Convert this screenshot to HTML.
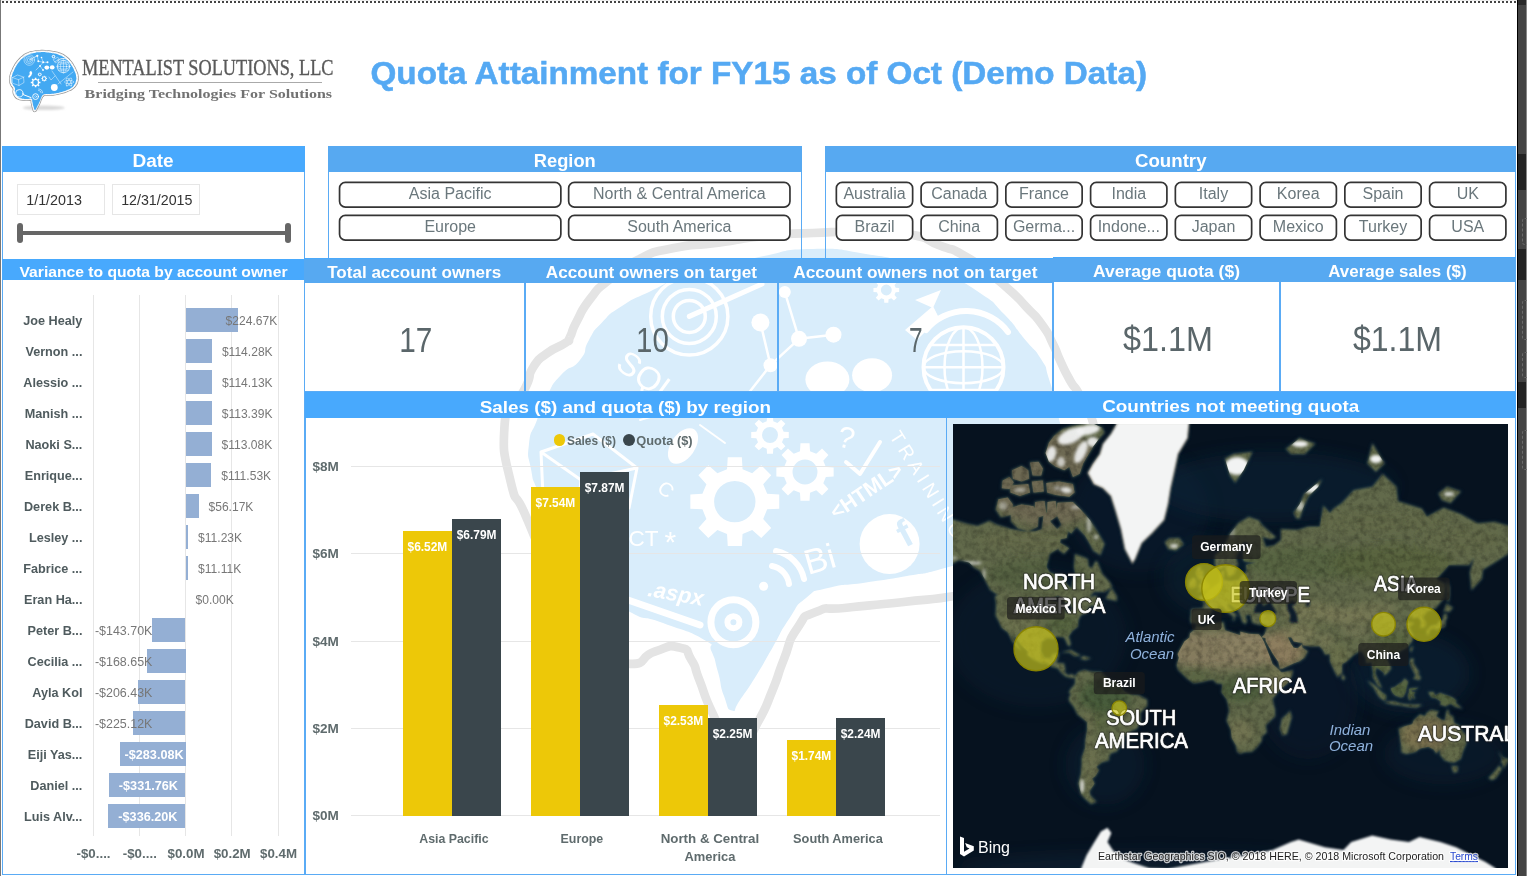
<!DOCTYPE html>
<html><head><meta charset="utf-8"><title>Quota Attainment</title>
<style>
html,body{margin:0;padding:0}
body{width:1527px;height:876px;position:relative;overflow:hidden;background:#fff;font-family:"Liberation Sans",sans-serif;color:#555}
div,span{box-sizing:border-box}
.a{position:absolute}
.hd{position:absolute}
.h1{background:#48a9fd}
.h2{background:#57a9f1}
.pn{position:absolute;border:1px solid #5aabf5}
.btn{position:absolute;border:1.7px solid #333;border-radius:6.5px;height:26.4px;line-height:20.6px;text-align:center;font-size:16px;color:#6a777c;white-space:nowrap;overflow:hidden;background:#fff}
.bar{position:absolute;height:24px;background:#94afd4}
</style></head><body>

<svg class="a" style="left:0;top:0" width="1527" height="876" viewBox="0 0 1527 876">
<path d="M515.00 405.00C522.37 390.77 520.37 397.97 526.50 385.30C532.63 372.63 526.53 377.67 533.40 367.00C540.27 356.33 536.47 361.30 547.10 353.30C557.73 345.30 557.70 348.33 565.30 343.00C572.90 337.67 566.07 344.53 569.90 337.30C573.73 330.07 569.93 334.23 576.80 321.30C583.67 308.37 579.87 312.20 590.50 298.50C601.13 284.80 592.73 293.13 608.70 280.20C624.67 267.27 617.10 270.33 638.40 259.70C659.70 249.07 645.97 254.00 672.60 248.30C699.23 242.60 687.50 246.70 718.30 242.60C749.10 238.50 733.43 239.20 765.00 236.00C796.57 232.80 781.33 234.33 813.00 233.00C844.67 231.67 828.37 231.63 860.00 232.00C891.63 232.37 881.30 229.60 907.90 234.10C934.50 238.60 921.57 238.63 939.80 245.50C958.03 252.37 947.37 246.30 962.60 254.70C977.83 263.10 970.27 259.30 985.50 270.70C1000.73 282.10 994.60 276.73 1008.30 288.90C1022.00 301.07 1015.17 295.00 1026.60 307.20C1038.03 319.40 1033.87 313.33 1042.60 325.50C1051.33 337.67 1046.73 331.53 1052.80 343.70C1058.87 355.87 1055.07 349.80 1060.80 362.00C1066.53 374.20 1063.13 368.13 1070.00 380.30C1076.87 392.47 1073.07 381.93 1081.40 398.50C1089.73 415.07 1088.80 406.17 1095.00 430.00C1101.20 453.83 1101.67 440.00 1100.00 470.00C1098.33 500.00 1103.33 490.00 1090.00 520.00C1076.67 550.00 1086.67 538.33 1060.00 560.00C1033.33 581.67 1043.33 573.23 1010.00 585.00C976.67 596.77 996.20 589.57 960.00 595.30C923.80 601.03 939.20 598.07 901.40 602.20C863.60 606.33 874.93 604.50 846.60 607.70C818.27 610.90 832.83 604.97 816.40 611.80C799.97 618.63 808.23 612.13 797.30 628.20C786.37 644.27 791.83 639.40 783.60 660.00C775.37 680.60 781.13 669.33 772.60 690.00C764.07 710.67 768.20 703.67 758.00 722.00C747.80 740.33 752.00 739.00 742.00 745.00C732.00 751.00 738.00 751.00 728.00 740.00C718.00 729.00 721.53 732.00 712.00 712.00C702.47 692.00 706.30 697.43 699.40 680.00C692.50 662.57 698.07 670.53 691.30 659.70C684.53 648.87 691.30 650.20 679.10 647.50C666.90 644.80 670.97 646.17 654.70 651.60C638.43 657.03 648.53 664.33 630.30 663.80C612.07 663.27 620.10 667.93 600.00 650.00C579.90 632.07 588.33 640.00 570.00 610.00C551.67 580.00 560.10 592.17 545.00 560.00C529.90 527.83 536.20 539.83 524.70 513.50C513.20 487.17 517.27 509.50 510.50 481.00C503.73 452.50 502.90 453.33 504.40 428.00C505.90 402.67 507.63 419.23 515.00 405.00Z" fill="none" stroke="#e4e4e4" stroke-width="8.7" stroke-linejoin="round"/>
<path d="M813.00 249.00C847.00 248.33 834.67 249.33 866.00 254.00C897.33 258.67 880.00 255.67 907.00 263.00C934.00 270.33 922.67 266.00 947.00 276.00C971.33 286.00 961.00 280.33 980.00 293.00C999.00 305.67 989.17 298.67 1004.00 314.00C1018.83 329.33 1012.17 324.00 1024.50 339.00C1036.83 354.00 1032.83 345.67 1041.00 359.00C1049.17 372.33 1043.67 362.00 1049.00 379.00C1054.33 396.00 1052.67 388.00 1057.00 410.00C1061.33 432.00 1061.67 420.00 1062.00 445.00C1062.33 470.00 1064.67 459.33 1058.00 485.00C1051.33 510.67 1059.67 500.67 1042.00 522.00C1024.33 543.33 1037.33 533.67 1005.00 549.00C972.67 564.33 977.67 559.00 945.00 568.00C912.33 577.00 933.33 571.17 907.00 576.00C880.67 580.83 892.33 578.50 866.00 582.50C839.67 586.50 848.00 582.83 828.00 588.00C808.00 593.17 819.00 587.67 806.00 598.00C793.00 608.33 800.13 602.50 789.00 619.00C777.87 635.50 783.60 628.50 772.60 647.50C761.60 666.50 766.87 658.50 756.00 676.00C745.13 693.50 748.00 688.50 740.00 700.00C732.00 711.50 737.33 711.83 732.00 710.50C726.67 709.17 728.67 708.83 724.00 696.00C719.33 683.17 722.13 686.80 718.00 672.00C713.87 657.20 716.43 662.47 711.60 651.60C706.77 640.73 719.70 648.93 703.50 639.40C687.30 629.87 688.17 632.47 663.00 623.00C637.83 613.53 651.67 623.67 628.00 611.00C604.33 598.33 614.00 607.00 592.00 585.00C570.00 563.00 577.00 570.33 562.00 545.00C547.00 519.67 555.33 527.67 547.00 509.00C538.67 490.33 542.33 502.33 537.00 489.00C531.67 475.67 533.67 484.00 531.00 469.00C528.33 454.00 527.00 460.33 529.00 444.00C531.00 427.67 531.00 436.00 537.00 420.00C543.00 404.00 539.00 411.00 547.00 396.00C555.00 381.00 550.00 387.00 561.00 375.00C572.00 363.00 570.67 371.67 580.00 360.00C589.33 348.33 581.67 352.50 589.00 340.00C596.33 327.50 591.00 333.83 602.00 322.50C613.00 311.17 605.67 316.50 622.00 306.00C638.33 295.50 630.67 300.67 651.00 291.00C671.33 281.33 658.67 285.00 683.00 277.00C707.33 269.00 697.00 274.00 724.00 267.00C751.00 260.00 734.33 262.00 764.00 256.00C793.67 250.00 779.00 249.67 813.00 249.00Z" fill="#d9edfb"/>
<g fill="#ffffff">
<path fill-rule="evenodd" d="M779.25 494.56L779.25 508.64L767.18 509.37L763.19 519.00L771.21 528.05L761.25 538.01L752.20 529.99L742.57 533.98L741.84 546.05L727.76 546.05L727.03 533.98L717.40 529.99L708.35 538.01L698.39 528.05L706.41 519.00L702.42 509.37L690.35 508.64L690.35 494.56L702.42 493.83L706.41 484.20L698.39 475.15L708.35 465.19L717.40 473.21L727.03 469.22L727.76 457.15L741.84 457.15L742.57 469.22L752.20 473.21L761.25 465.19L771.21 475.15L763.19 484.20L767.18 493.83ZM755.50 501.60A20.70 20.70 0 1 0 714.10 501.60A20.70 20.70 0 1 0 755.50 501.60Z"/>
<path fill-rule="evenodd" d="M833.64 467.46L833.64 476.54L825.87 477.01L823.30 483.21L828.46 489.05L822.05 495.46L816.21 490.30L810.01 492.87L809.54 500.64L800.46 500.64L799.99 492.87L793.79 490.30L787.95 495.46L781.54 489.05L786.70 483.21L784.13 477.01L776.36 476.54L776.36 467.46L784.13 466.99L786.70 460.79L781.54 454.95L787.95 448.54L793.79 453.70L799.99 451.13L800.46 443.36L809.54 443.36L810.01 451.13L816.21 453.70L822.05 448.54L828.46 454.95L823.30 460.79L825.87 466.99ZM817.47 472.00A12.47 12.47 0 1 0 792.53 472.00A12.47 12.47 0 1 0 817.47 472.00Z"/>
<path fill-rule="evenodd" d="M788.77 432.03L788.77 437.97L783.67 438.28L781.99 442.35L785.37 446.17L781.17 450.37L777.35 446.99L773.28 448.67L772.97 453.77L767.03 453.77L766.72 448.67L762.65 446.99L758.83 450.37L754.63 446.17L758.01 442.35L756.33 438.28L751.23 437.97L751.23 432.03L756.33 431.72L758.01 427.65L754.63 423.83L758.83 419.63L762.65 423.01L766.72 421.33L767.03 416.23L772.97 416.23L773.28 421.33L777.35 423.01L781.17 419.63L785.37 423.83L781.99 427.65L783.67 431.72ZM777.98 435.00A7.98 7.98 0 1 0 762.02 435.00A7.98 7.98 0 1 0 777.98 435.00Z"/>
<path fill-rule="evenodd" d="M899.14 287.97L899.14 292.03L895.65 292.25L894.50 295.03L896.82 297.64L893.94 300.52L891.33 298.20L888.55 299.35L888.33 302.84L884.27 302.84L884.05 299.35L881.27 298.20L878.66 300.52L875.78 297.64L878.10 295.03L876.95 292.25L873.46 292.03L873.46 287.97L876.95 287.75L878.10 284.97L875.78 282.36L878.66 279.48L881.27 281.80L884.05 280.65L884.27 277.16L888.33 277.16L888.55 280.65L891.33 281.80L893.94 279.48L896.82 282.36L894.50 284.97L895.65 287.75ZM891.76 290.00A5.46 5.46 0 1 0 880.84 290.00A5.46 5.46 0 1 0 891.76 290.00Z"/>
<circle cx="889.6" cy="544.1" r="30"/>
<ellipse cx="827.4" cy="379.4" rx="22" ry="18"/><ellipse cx="872.1" cy="375.3" rx="20" ry="17"/>
<circle cx="760.4" cy="322.5" r="9"/><circle cx="799" cy="338.8" r="8"/><circle cx="833.5" cy="334.7" r="8"/><circle cx="770.5" cy="365.2" r="7"/><circle cx="784.8" cy="292" r="6"/>
<circle cx="763.6" cy="586.3" r="4.5"/>
<path d="M905 330l28-24l6 12l-22 22zM915 300l26-10l-8 18z"/>
<ellipse cx="683" cy="446" rx="12" ry="20" transform="rotate(35 683 446)"/>
</g>
<g fill="none" stroke="#ffffff" stroke-width="3.5" stroke-linecap="round" stroke-linejoin="round">
<circle cx="689.3" cy="316.4" r="38.6"/><circle cx="689.3" cy="316.4" r="27"/><circle cx="689.3" cy="316.4" r="16"/><path d="M689.3 316.4L762 284" stroke-width="5"/>
<path d="M784.8 292L799 338.8L833.5 334.7M799 338.8L770.5 365.2M760.4 322.5L770.5 365.2L740 404" stroke-width="2.5"/>
<circle cx="963.5" cy="367.2" r="40" stroke-width="4"/><ellipse cx="963.5" cy="367.2" rx="19" ry="40" stroke-width="2.5"/><ellipse cx="963.5" cy="367.2" rx="40" ry="16" stroke-width="2.5"/><path d="M963.5 327.2V407.2M923.5 367.2H1003.5M930 345H997M930 390H997" stroke-width="2.5"/><path d="M926 330A52 52 0 0 1 1008 332" stroke-width="6"/>
<path d="M541 452l52-18l44 34l-8 40l-52 14l-34-26zM541 452l40 28l56-12M581 480l-4 42" stroke-width="3"/>
<circle cx="733.4" cy="622.2" r="22.5" stroke-width="7"/><circle cx="733.4" cy="622.2" r="6" stroke-width="6"/>
<path d="M772 566a21 21 0 0 1 17 18M776 551a36 36 0 0 1 28 28" stroke-width="6"/>
<path d="M846 462l14 12l20-32" stroke-width="4"/>
<path d="M610 610a26 26 0 1 1 14 -30M628 600L700 625" stroke-width="7"/>
<path d="M700 425l25 18M640 420l50-15" stroke-width="2"/>
</g>
<g fill="#ffffff" font-family="Liberation Sans, sans-serif">
<text transform="translate(614 367) rotate(36)" font-size="33">SQL</text>
<text x="571" y="546" font-size="22.5">SELECT <tspan font-size="30" dy="6">*</tspan></text>
<text transform="translate(647 596) rotate(10)" font-weight="bold" font-style="italic" font-size="22">.aspx</text>
<text transform="translate(808 575) rotate(-16)" font-size="35">Bi</text>
<text transform="translate(836 520) rotate(-34)" font-weight="bold" font-size="21">&lt;HTML&gt;</text>
<text transform="translate(889 436) rotate(58)" font-size="19" letter-spacing="4.5">TRAININGS</text>
<text transform="translate(836 446) rotate(12)" font-size="30">?</text>
<text transform="translate(656 490) rotate(40)" font-size="20">C</text>
<text transform="translate(905 548) rotate(-28)" font-size="38" font-weight="bold" fill="#d9edfb">f</text>
</g>
</svg>
<div class="a" style="left:0;top:0;width:1517px;height:1px;background:#eee"></div>
<div class="a" style="left:2px;top:1px;width:1515px;height:2px;background:repeating-linear-gradient(90deg,#444 0,#444 2px,transparent 2px,transparent 4px)"></div>
<div class="a" style="left:0;top:0;width:1px;height:876px;background:#777"></div>
<div class="a" style="left:1517px;top:0;width:10px;height:876px;background:#444;border-left:1px solid #000;border-right:1px solid #888"></div>
<div class="a" style="left:1518px;top:0;width:8px;height:5px;background:#282828"></div>
<div class="a" style="left:1518px;top:154px;width:8px;height:36px;background:#232323"></div>
<div class="a" style="left:1518px;top:249px;width:8px;height:31px;background:#232323"></div>
<div class="a" style="left:1518px;top:382px;width:8px;height:26px;background:#232323"></div>
<div class="a" style="left:1522px;top:218px;width:8px;height:27px;border:1px dashed #6a6a6a;border-radius:3px"></div>
<div class="a" style="left:1522px;top:300px;width:8px;height:40px;border:1px dashed #6a6a6a;border-radius:3px"></div>
<div class="a" style="left:1522px;top:352px;width:8px;height:26px;border:1px dashed #6a6a6a;border-radius:3px"></div>
<div class="a" style="left:1522px;top:430px;width:8px;height:40px;border:1px dashed #6a6a6a;border-radius:3px"></div>
<svg class="a" style="left:0;top:30px" width="380" height="100" viewBox="0 30 380 100">
<defs><filter id="sh" x="-20%" y="-100%" width="140%" height="300%"><feGaussianBlur stdDeviation="0.9"/></filter></defs>
<ellipse cx="43.8" cy="107.8" rx="21" ry="2.3" fill="#d9d9d9" filter="url(#sh)"/>
<path d="M10.23 80.18C10.08 76.83 10.11 78.05 10.96 74.70C11.81 71.35 11.42 73.18 12.79 70.14C14.16 67.09 13.24 68.61 15.07 65.57C16.89 62.53 15.83 63.90 18.26 61.00C20.70 58.11 19.33 59.33 22.37 56.89C25.42 54.46 23.59 55.37 27.40 53.70C31.20 52.02 29.53 52.72 33.79 51.87C38.05 51.02 35.62 51.29 40.18 51.14C44.75 50.99 42.92 51.02 47.49 51.42C52.05 51.81 49.92 51.57 53.88 52.33C57.84 53.09 55.71 52.33 59.36 53.70C63.01 55.07 61.49 54.16 64.84 56.44C68.19 58.72 66.67 57.50 69.41 60.55C72.15 63.59 70.93 62.07 73.06 65.57C75.19 69.07 74.34 67.40 75.80 71.05C77.26 74.70 76.99 73.18 77.44 76.53C77.90 79.88 77.87 78.20 77.17 81.10C76.47 83.99 77.02 82.77 75.34 85.21C73.67 87.64 74.73 86.58 72.15 88.40C69.56 90.23 70.93 89.32 67.58 90.68C64.23 92.05 65.75 91.45 62.10 92.51C58.45 93.58 60.27 93.21 56.62 93.88C52.97 94.55 54.79 94.28 51.14 94.52C47.49 94.76 48.40 94.22 45.66 94.61C42.92 95.01 44.44 94.43 42.92 95.71C41.40 96.99 42.31 96.01 41.10 98.45C39.88 100.88 40.64 99.97 39.27 103.01C37.90 106.06 38.51 104.90 36.99 107.58C35.46 110.26 36.01 111.05 34.70 111.05C33.39 111.05 33.97 110.26 33.06 107.58C32.15 104.90 32.63 105.60 31.96 103.01C31.29 100.43 32.57 100.88 31.05 99.82C29.53 98.75 30.14 99.91 27.40 99.82C24.66 99.73 25.88 100.00 22.83 99.54C19.79 99.09 20.85 99.73 18.26 98.45C15.68 97.17 16.59 97.84 15.07 95.71C13.55 93.58 14.16 94.49 13.70 92.05C13.24 89.62 14.46 90.84 13.70 88.40C12.94 85.97 12.57 87.49 11.42 84.75C10.26 82.01 10.38 83.53 10.23 80.18Z" fill="none" stroke="#9c9c9c" stroke-width="2.50" stroke-linejoin="round"/>
<path d="M10.23 80.18C10.08 76.83 10.11 78.05 10.96 74.70C11.81 71.35 11.42 73.18 12.79 70.14C14.16 67.09 13.24 68.61 15.07 65.57C16.89 62.53 15.83 63.90 18.26 61.00C20.70 58.11 19.33 59.33 22.37 56.89C25.42 54.46 23.59 55.37 27.40 53.70C31.20 52.02 29.53 52.72 33.79 51.87C38.05 51.02 35.62 51.29 40.18 51.14C44.75 50.99 42.92 51.02 47.49 51.42C52.05 51.81 49.92 51.57 53.88 52.33C57.84 53.09 55.71 52.33 59.36 53.70C63.01 55.07 61.49 54.16 64.84 56.44C68.19 58.72 66.67 57.50 69.41 60.55C72.15 63.59 70.93 62.07 73.06 65.57C75.19 69.07 74.34 67.40 75.80 71.05C77.26 74.70 76.99 73.18 77.44 76.53C77.90 79.88 77.87 78.20 77.17 81.10C76.47 83.99 77.02 82.77 75.34 85.21C73.67 87.64 74.73 86.58 72.15 88.40C69.56 90.23 70.93 89.32 67.58 90.68C64.23 92.05 65.75 91.45 62.10 92.51C58.45 93.58 60.27 93.21 56.62 93.88C52.97 94.55 54.79 94.28 51.14 94.52C47.49 94.76 48.40 94.22 45.66 94.61C42.92 95.01 44.44 94.43 42.92 95.71C41.40 96.99 42.31 96.01 41.10 98.45C39.88 100.88 40.64 99.97 39.27 103.01C37.90 106.06 38.51 104.90 36.99 107.58C35.46 110.26 36.01 111.05 34.70 111.05C33.39 111.05 33.97 110.26 33.06 107.58C32.15 104.90 32.63 105.60 31.96 103.01C31.29 100.43 32.57 100.88 31.05 99.82C29.53 98.75 30.14 99.91 27.40 99.82C24.66 99.73 25.88 100.00 22.83 99.54C19.79 99.09 20.85 99.73 18.26 98.45C15.68 97.17 16.59 97.84 15.07 95.71C13.55 93.58 14.16 94.49 13.70 92.05C13.24 89.62 14.46 90.84 13.70 88.40C12.94 85.97 12.57 87.49 11.42 84.75C10.26 82.01 10.38 83.53 10.23 80.18Z" fill="#fff" stroke="#fff" stroke-width="1.00" stroke-linejoin="round"/>
<path d="M10.23 80.18C10.08 76.83 10.11 78.05 10.96 74.70C11.81 71.35 11.42 73.18 12.79 70.14C14.16 67.09 13.24 68.61 15.07 65.57C16.89 62.53 15.83 63.90 18.26 61.00C20.70 58.11 19.33 59.33 22.37 56.89C25.42 54.46 23.59 55.37 27.40 53.70C31.20 52.02 29.53 52.72 33.79 51.87C38.05 51.02 35.62 51.29 40.18 51.14C44.75 50.99 42.92 51.02 47.49 51.42C52.05 51.81 49.92 51.57 53.88 52.33C57.84 53.09 55.71 52.33 59.36 53.70C63.01 55.07 61.49 54.16 64.84 56.44C68.19 58.72 66.67 57.50 69.41 60.55C72.15 63.59 70.93 62.07 73.06 65.57C75.19 69.07 74.34 67.40 75.80 71.05C77.26 74.70 76.99 73.18 77.44 76.53C77.90 79.88 77.87 78.20 77.17 81.10C76.47 83.99 77.02 82.77 75.34 85.21C73.67 87.64 74.73 86.58 72.15 88.40C69.56 90.23 70.93 89.32 67.58 90.68C64.23 92.05 65.75 91.45 62.10 92.51C58.45 93.58 60.27 93.21 56.62 93.88C52.97 94.55 54.79 94.28 51.14 94.52C47.49 94.76 48.40 94.22 45.66 94.61C42.92 95.01 44.44 94.43 42.92 95.71C41.40 96.99 42.31 96.01 41.10 98.45C39.88 100.88 40.64 99.97 39.27 103.01C37.90 106.06 38.51 104.90 36.99 107.58C35.46 110.26 36.01 111.05 34.70 111.05C33.39 111.05 33.97 110.26 33.06 107.58C32.15 104.90 32.63 105.60 31.96 103.01C31.29 100.43 32.57 100.88 31.05 99.82C29.53 98.75 30.14 99.91 27.40 99.82C24.66 99.73 25.88 100.00 22.83 99.54C19.79 99.09 20.85 99.73 18.26 98.45C15.68 97.17 16.59 97.84 15.07 95.71C13.55 93.58 14.16 94.49 13.70 92.05C13.24 89.62 14.46 90.84 13.70 88.40C12.94 85.97 12.57 87.49 11.42 84.75C10.26 82.01 10.38 83.53 10.23 80.18Z" fill="#43a9f2" transform="translate(44 79) scale(0.962) translate(-44 -79)"/>
<g fill="#ffffff" stroke="none">
<path fill-rule="evenodd" d="M40.44 81.73L40.44 83.27L39.13 83.35L38.69 84.39L39.56 85.38L38.48 86.46L37.49 85.59L36.45 86.03L36.37 87.34L34.83 87.34L34.75 86.03L33.71 85.59L32.72 86.46L31.64 85.38L32.51 84.39L32.07 83.35L30.76 83.27L30.76 81.73L32.07 81.65L32.51 80.61L31.64 79.62L32.72 78.54L33.71 79.41L34.75 78.97L34.83 77.66L36.37 77.66L36.45 78.97L37.49 79.41L38.48 78.54L39.56 79.62L38.69 80.61L39.13 81.65ZM37.80 82.50A2.21 2.21 0 1 0 33.40 82.50A2.21 2.21 0 1 0 37.80 82.50Z"/>
<path fill-rule="evenodd" d="M47.06 78.15L47.06 79.05L46.29 79.10L46.03 79.72L46.55 80.30L45.90 80.95L45.32 80.43L44.70 80.69L44.65 81.46L43.75 81.46L43.70 80.69L43.08 80.43L42.50 80.95L41.85 80.30L42.37 79.72L42.11 79.10L41.34 79.05L41.34 78.15L42.11 78.10L42.37 77.48L41.85 76.90L42.50 76.25L43.08 76.77L43.70 76.51L43.75 75.74L44.65 75.74L44.70 76.51L45.32 76.77L45.90 76.25L46.55 76.90L46.03 77.48L46.29 78.10ZM45.51 78.60A1.30 1.30 0 1 0 42.90 78.60A1.30 1.30 0 1 0 45.51 78.60Z"/>
<path fill-rule="evenodd" d="M41.78 74.09L41.78 74.71L41.24 74.75L41.06 75.17L41.42 75.58L40.98 76.02L40.57 75.66L40.15 75.84L40.11 76.38L39.49 76.38L39.45 75.84L39.03 75.66L38.62 76.02L38.18 75.58L38.54 75.17L38.36 74.75L37.82 74.71L37.82 74.09L38.36 74.05L38.54 73.63L38.18 73.22L38.62 72.78L39.03 73.14L39.45 72.96L39.49 72.42L40.11 72.42L40.15 72.96L40.57 73.14L40.98 72.78L41.42 73.22L41.06 73.63L41.24 74.05ZM40.70 74.40A0.90 0.90 0 1 0 38.90 74.40A0.90 0.90 0 1 0 40.70 74.40Z"/>
<path fill-rule="evenodd" d="M55.38 56.30L55.38 56.90L54.87 56.93L54.70 57.33L55.04 57.72L54.62 58.14L54.23 57.80L53.83 57.97L53.80 58.48L53.20 58.48L53.17 57.97L52.77 57.80L52.38 58.14L51.96 57.72L52.30 57.33L52.13 56.93L51.62 56.90L51.62 56.30L52.13 56.27L52.30 55.87L51.96 55.48L52.38 55.06L52.77 55.40L53.17 55.23L53.20 54.72L53.80 54.72L53.83 55.23L54.23 55.40L54.62 55.06L55.04 55.48L54.70 55.87L54.87 56.27ZM54.35 56.60A0.85 0.85 0 1 0 52.65 56.60A0.85 0.85 0 1 0 54.35 56.60Z"/>
<circle cx="54.3" cy="87.5" r="3.4"/>
<ellipse cx="46.8" cy="67.6" rx="2.4" ry="2.1"/><ellipse cx="52.2" cy="67.4" rx="2.4" ry="2.1"/>
<circle cx="37.3" cy="55.8" r="1.1"/><circle cx="38.3" cy="61.2" r="1.0"/><circle cx="43.2" cy="62.3" r="1.0"/><circle cx="47.5" cy="62.3" r="1.0"/><circle cx="41.5" cy="57.5" r=".8"/><circle cx="40" cy="66" r=".9"/><circle cx="43" cy="70" r=".9"/>
<path d="M29.5 72 l1.6 -1.2 l1.2 2.2 l-1 2.6 l-2.4 2.4 l-.8 -1.8 l1.6 -1.6z"/>
</g>
<g fill="none" stroke="#ffffff" stroke-width=".45" stroke-linecap="round">
<circle cx="29.3" cy="60" r="5.3"/><circle cx="29.3" cy="60" r="3.6"/><circle cx="29.3" cy="60" r="2"/><path d="M29.3 60L37 55.9" stroke-width=".7"/>
<path d="M37.3 55.8L38.3 61.2L43.2 62.3L47.5 62.3M41.5 57.5L43.2 62.3L40 66L43 70M40 66L36 70"/>
<circle cx="63.5" cy="66.5" r="6.3" stroke-width=".6"/><ellipse cx="63.5" cy="66.5" rx="3" ry="6.3"/><ellipse cx="63.5" cy="66.5" rx="6.3" ry="2.6"/><path d="M63.5 60.2V72.8M57.2 66.5H69.8M58.4 62.8H68.6M58.4 70.2H68.6"/><path d="M58 60.5A8 8 0 0 1 70.5 62" stroke-width=".8"/>
<path d="M12.5 77.5l5-2.5l6 2l.5 5.5l-5 3l-6.2-2.2zM12.5 77.5l6 2.2l5.5-2.7M18.5 79.7l.5 5.8"/>
<circle cx="19.3" cy="93.3" r="3.7" stroke-width=".8"/><path d="M23 94.5L31 97.6" stroke-width="1"/>
<circle cx="35.6" cy="96.6" r="2.9" stroke-width=".9"/><circle cx="35.6" cy="96.6" r="1"/>
<ellipse cx="69" cy="82" rx="4.6" ry="1.7"/><ellipse cx="69" cy="82" rx="4.6" ry="1.7" transform="rotate(60 69 82)"/><ellipse cx="69" cy="82" rx="4.6" ry="1.7" transform="rotate(120 69 82)"/>
<path d="M52 71L61 84M58 84L73 72M49 77l2 3 l4-4"/>
<path d="M38.6 90.4a2.6 2.6 0 0 1 2.6 2.4M38.6 89a4 4 0 0 1 4 3.8" stroke-width=".55"/>
<path d="M53.5 59.5l4.2-2.3l1.5 1.8l-4.2 2.6zM54.8 61.3l.6 1.6l3-1.6l-.5-1.4" />
</g>
<g font-family="Liberation Serif, serif">
<text x="82" y="74.8" font-size="22.6" fill="#5a5a5a" stroke="#5a5a5a" stroke-width=".35" textLength="251.5" lengthAdjust="spacingAndGlyphs">MENTALIST SOLUTIONS, LLC</text>
<rect x="98" y="82" width="224" height="1" fill="#aaa"/>
<text x="84.6" y="97.7" font-size="13.3" font-weight="bold" fill="#727272" textLength="247.5" lengthAdjust="spacingAndGlyphs">Bridging Technologies For Solutions</text>
</g></svg>
<div class="pn" style="left:2px;top:146px;width:303px;height:114px"></div>
<div class="hd h1" style="left:2px;top:146px;width:303px;height:26px"></div>
<div class="a" style="left:17px;top:184px;width:88px;height:31px;border:1px solid #e6e6e6"></div>
<div class="a" style="left:112px;top:184px;width:88px;height:31px;border:1px solid #e6e6e6"></div>
<div class="a" style="left:19px;top:231px;width:271px;height:4px;background:#666"></div>
<div class="a" style="left:17px;top:223px;width:6px;height:20px;background:#666;border-radius:3px"></div>
<div class="a" style="left:285px;top:223px;width:6px;height:20px;background:#666;border-radius:3px"></div>
<div class="pn" style="left:328px;top:146px;width:474px;height:114px"></div>
<div class="hd h2" style="left:328px;top:146px;width:474px;height:26px"></div>
<div class="pn" style="left:825px;top:146px;width:691px;height:114px"></div>
<div class="hd h2" style="left:825px;top:146px;width:691px;height:26px"></div>
<div class="pn" style="left:2px;top:260px;width:303px;height:615px"></div>
<div class="hd h1" style="left:2px;top:259px;width:303px;height:21px"></div>
<div class="a" style="left:92.5px;top:295px;width:1px;height:541px;background:#e6e6e6"></div>
<div class="a" style="left:138.75px;top:295px;width:1px;height:541px;background:#e6e6e6"></div>
<div class="a" style="left:185.0px;top:295px;width:1px;height:541px;background:#e6e6e6"></div>
<div class="a" style="left:231.25px;top:295px;width:1px;height:541px;background:#e6e6e6"></div>
<div class="a" style="left:277.5px;top:295px;width:1px;height:541px;background:#e6e6e6"></div>
<div class="bar" style="left:185.5px;top:308px;width:52.0px"></div>
<div class="bar" style="left:185.5px;top:339px;width:26.4px"></div>
<div class="bar" style="left:185.5px;top:370px;width:26.4px"></div>
<div class="bar" style="left:185.5px;top:401px;width:26.2px"></div>
<div class="bar" style="left:185.5px;top:432px;width:26.1px"></div>
<div class="bar" style="left:185.5px;top:463px;width:25.8px"></div>
<div class="bar" style="left:185.5px;top:494px;width:13.0px"></div>
<div class="bar" style="left:185.5px;top:525px;width:2.6px"></div>
<div class="bar" style="left:185.5px;top:556px;width:2.6px"></div>
<div class="bar" style="left:152.3px;top:618px;width:33.2px"></div>
<div class="bar" style="left:146.5px;top:649px;width:39.0px"></div>
<div class="bar" style="left:137.8px;top:680px;width:47.7px"></div>
<div class="bar" style="left:133.4px;top:711px;width:52.1px"></div>
<div class="bar" style="left:120.0px;top:742px;width:65.5px"></div>
<div class="bar" style="left:108.8px;top:773px;width:76.7px"></div>
<div class="bar" style="left:107.8px;top:804px;width:77.7px"></div>
<div class="pn" style="left:304px;top:258px;width:221px;height:134px"></div>
<div class="hd h2" style="left:304px;top:258px;width:221px;height:24.6px;border-top:1px solid #4aa9fb"></div>
<div class="pn" style="left:525px;top:258px;width:253px;height:134px"></div>
<div class="hd h2" style="left:525px;top:258px;width:253px;height:24.6px;border-top:1px solid #4aa9fb"></div>
<div class="pn" style="left:778px;top:258px;width:275px;height:134px"></div>
<div class="hd h2" style="left:778px;top:258px;width:275px;height:24.6px;border-top:1px solid #4aa9fb"></div>
<div class="pn" style="left:1053px;top:257px;width:227px;height:135px"></div>
<div class="hd h2" style="left:1053px;top:257px;width:227px;height:24.6px;border-top:1px solid #4aa9fb"></div>
<div class="pn" style="left:1280px;top:257px;width:236px;height:135px"></div>
<div class="hd h2" style="left:1280px;top:257px;width:236px;height:24.6px;border-top:1px solid #4aa9fb"></div>
<div class="pn" style="left:305px;top:393px;width:642px;height:482px"></div>
<div class="hd h1" style="left:305px;top:392px;width:642px;height:26px"></div>
<div class="a" style="left:351px;top:466.0px;width:589px;height:1px;background:#e6e6e6"></div>
<div class="a" style="left:351px;top:553.3px;width:589px;height:1px;background:#e6e6e6"></div>
<div class="a" style="left:351px;top:640.6px;width:589px;height:1px;background:#e6e6e6"></div>
<div class="a" style="left:351px;top:727.9px;width:589px;height:1px;background:#e6e6e6"></div>
<div class="a" style="left:351px;top:815.3px;width:589px;height:1px;background:#e6e6e6"></div>
<div class="a" style="left:402.5px;top:531.0px;width:49.2px;height:284.8px;background:#edc808"></div>
<div class="a" style="left:451.7px;top:519.2px;width:49.2px;height:296.6px;background:#3a464c"></div>
<div class="a" style="left:530.5px;top:486.5px;width:49.2px;height:329.3px;background:#edc808"></div>
<div class="a" style="left:579.7px;top:472.1px;width:49.2px;height:343.7px;background:#3a464c"></div>
<div class="a" style="left:658.5px;top:705.3px;width:49.2px;height:110.5px;background:#edc808"></div>
<div class="a" style="left:707.7px;top:717.5px;width:49.2px;height:98.3px;background:#3a464c"></div>
<div class="a" style="left:786.5px;top:739.8px;width:49.2px;height:76.0px;background:#edc808"></div>
<div class="a" style="left:835.7px;top:718.0px;width:49.2px;height:97.8px;background:#3a464c"></div>
<div class="a" style="left:553.5px;top:434.4px;width:11.6px;height:11.6px;border-radius:6px;background:#edc808"></div>
<div class="a" style="left:623.2px;top:434.4px;width:11.6px;height:11.6px;border-radius:6px;background:#3a464c"></div>
<div class="pn" style="left:946px;top:393px;width:570px;height:482px"></div>
<div class="hd h1" style="left:946px;top:392px;width:570px;height:26px"></div>
<svg class="a" style="left:953px;top:424px" width="555" height="444" viewBox="0 0 555 444">
<defs>
<filter id="b1" filterUnits="userSpaceOnUse" x="-50" y="-50" width="700" height="600"><feGaussianBlur stdDeviation="0.9"/></filter>
<filter id="b4" filterUnits="userSpaceOnUse" x="-50" y="-50" width="700" height="600"><feGaussianBlur stdDeviation="4"/></filter>
<filter id="b8" filterUnits="userSpaceOnUse" x="-50" y="-50" width="700" height="600"><feGaussianBlur stdDeviation="8"/></filter>
<filter id="b2" filterUnits="userSpaceOnUse" x="-50" y="-50" width="700" height="600"><feGaussianBlur stdDeviation="1.6"/></filter>
<filter id="tx" x="0" y="0" width="100%" height="100%"><feTurbulence type="fractalNoise" baseFrequency="0.16" numOctaves="3" seed="7"/><feColorMatrix type="matrix" values="0 0 0 0 0  0 0 0 0 0  0 0 0 0 0  0.9 0.9 0 0 -0.75"/></filter>
<clipPath id="lc">
<polygon points="-31.4,118.2 -28.0,105.2 -21.2,97.0 -11.9,91.3 -0.8,95.5 14.4,100.0 24.6,101.9 36.4,97.0 43.2,100.4 58.5,105.2 70.3,107.5 82.2,107.5 89.0,105.2 90.7,90.3 95.8,87.6 97.5,98.0 104.2,105.2 109.3,100.4 115.3,105.2 113.6,114.0 107.6,114.9 105.9,124.2 96.6,129.8 93.2,142.9 96.6,148.4 109.3,153.5 113.9,160.5 118.6,164.9 119.8,157.3 122.9,151.4 121.2,142.9 122.0,130.2 131.4,133.4 134.8,135.2 135.6,142.6 139.0,144.2 142.4,137.6 144.1,137.6 149.2,149.9 156.8,158.2 159.0,163.0 151.7,167.8 140.7,167.8 136.4,173.5 143.2,171.5 144.1,176.0 150.0,179.7 142.4,184.5 139.8,180.9 134.8,184.0 133.9,188.4 128.0,191.1 125.4,195.7 124.6,202.7 119.5,206.6 115.6,212.2 117.6,219.3 117.0,222.3 114.4,220.8 113.2,217.4 111.0,213.2 104.2,212.6 100.9,214.7 94.1,214.1 88.5,218.0 87.8,227.3 91.0,234.1 97.5,234.4 100.0,230.1 105.9,229.2 104.7,235.5 103.4,239.0 111.0,239.4 112.2,245.1 111.5,248.6 115.3,251.2 118.6,250.3 122.4,251.9 121.2,254.1 117.8,253.8 112.7,252.4 108.1,248.6 104.9,244.3 98.3,242.5 93.2,238.7 89.0,239.2 80.5,235.5 74.6,231.0 74.9,227.3 68.6,221.6 62.4,214.1 59.0,209.8 62.7,218.0 67.8,226.4 63.6,222.7 59.3,217.0 54.9,208.2 49.0,204.1 45.8,197.2 42.7,191.5 43.2,178.5 42.0,172.5 44.9,171.0 37.3,165.7 32.2,155.9 27.1,146.8 21.2,143.6 16.1,138.6 5.9,135.9 -3.4,141.0 -5.9,145.2 -14.4,149.9 -22.9,154.4 -17.8,143.6 -21.2,138.6 -27.1,135.2 -25.4,128.0 -19.5,122.2 -28.0,122.2"/>
<polygon points="105.9,118.2 116.1,124.2 111.0,129.8 105.9,126.1"/>
<polygon points="152.9,174.5 158.5,164.1 163.6,172.3 163.6,176.8 159.3,176.0"/>
<polygon points="109.3,228.3 117.8,226.1 127.6,231.5 121.7,232.1 116.1,228.3"/>
<polygon points="127.3,234.6 130.5,232.1 137.5,234.2 132.2,236.0"/>
<polygon points="211.9,118.2 216.1,114.5 226.3,114.0 230.5,120.2 222.9,126.5 215.3,124.9"/>
<polygon points="122.4,251.9 125.4,248.1 131.4,246.0 138.1,247.7 148.3,248.3 151.7,252.0 156.8,256.3 165.3,258.9 168.7,264.8 172.0,268.2 178.8,270.7 185.6,271.2 194.1,275.8 194.1,281.8 187.3,288.7 187.3,297.5 183.9,304.7 177.1,307.5 171.2,312.2 170.9,316.9 163.6,327.4 157.6,329.5 155.9,333.0 155.9,336.2 148.3,338.4 143.2,342.8 145.8,346.2 142.4,352.1 139.0,354.5 141.5,359.5 136.4,367.3 137.3,371.4 143.2,377.7 138.1,380.1 133.1,375.7 128.0,370.0 125.4,359.5 128.0,349.7 128.8,340.6 128.8,334.1 132.2,323.8 132.5,316.0 134.2,306.6 134.2,298.1 124.6,290.5 121.2,283.5 116.1,276.7 116.1,273.3 117.8,270.7 116.1,268.2 117.8,264.8 120.3,262.3 122.0,259.7 122.0,255.5"/>
<polygon points="243.2,201.4 250.0,202.7 258.5,199.3 270.4,198.3 272.0,206.2 278.8,208.6 287.3,211.2 287.3,207.6 295.8,209.8 305.9,210.2 308.5,213.2 311.0,218.0 314.4,226.4 316.6,231.9 319.5,239.9 326.3,246.0 326.8,246.9 328.8,248.6 339.8,246.4 339.0,251.2 334.8,258.9 328.0,264.8 323.7,269.6 319.5,275.0 320.4,280.1 322.0,285.3 322.0,292.2 312.7,301.1 313.6,308.4 309.0,312.2 308.5,316.9 304.2,322.8 299.2,327.4 290.7,328.2 287.3,329.5 284.4,327.8 283.1,321.8 278.8,314.1 278.0,305.7 273.7,296.6 276.3,287.0 275.4,281.0 273.7,275.0 268.7,268.2 269.5,263.1 269.5,259.7 263.6,259.2 260.2,255.8 255.1,256.3 248.3,258.0 240.7,259.0 234.8,255.1 230.9,251.2 225.4,246.0 223.7,241.3 225.9,233.7 224.6,230.1 228.0,223.7 231.4,217.4 236.5,213.6 237.0,209.2 242.4,204.8"/>
<polygon points="337.0,287.0 338.7,293.1 333.9,309.9 329.7,311.2 327.1,304.7 328.8,294.9 334.8,289.6"/>
<polygon points="237.6,195.3 238.5,185.2 250.0,184.5 251.4,178.5 245.4,172.8 250.9,171.7 255.9,166.0 260.2,163.3 267.0,158.2 267.8,148.4 271.2,146.2 270.4,155.9 277.1,157.3 285.6,156.2 289.0,151.4 294.1,147.4 293.2,141.0 304.2,138.6 295.8,137.9 290.7,136.9 289.8,128.0 295.8,119.4 290.7,117.4 282.7,133.4 284.8,140.3 281.4,149.9 275.4,152.9 272.0,142.0 267.0,145.2 261.9,142.0 261.9,131.6 270.4,124.2 277.1,109.7 285.6,99.0 295.8,92.9 305.9,96.5 309.3,101.4 322.9,113.2 317.8,115.3 309.3,112.7 312.7,123.0 321.2,121.4 328.0,116.1 328.0,105.2 344.9,106.1 355.1,102.8 367.0,102.8 370.4,81.9 377.1,89.2 380.5,84.8 389.0,79.0 400.9,66.3 419.5,62.8 429.7,50.2 443.2,62.8 444.9,77.2 468.7,84.8 473.8,92.9 490.7,83.7 507.7,90.3 524.6,99.5 541.6,98.0 558.5,102.8 558.5,120.2 555.1,129.8 541.6,138.6 529.7,145.8 528.8,154.4 518.7,165.7 517.0,148.4 521.2,133.4 516.1,141.0 495.8,141.0 483.1,155.3 492.4,160.2 491.5,173.5 482.2,184.5 474.6,186.8 469.5,192.9 472.9,198.9 472.1,202.7 467.5,204.1 468.2,197.2 465.3,193.3 459.3,194.6 460.2,190.9 453.4,194.2 455.1,197.9 461.0,198.9 456.0,203.1 459.9,211.2 459.3,217.0 453.4,223.7 445.8,227.9 439.9,230.1 437.3,228.8 433.1,233.7 438.2,244.3 434.8,248.6 431.4,251.5 431.0,248.6 426.3,245.1 422.9,243.6 422.1,249.5 428.8,264.0 425.1,261.8 420.0,252.9 420.4,249.5 418.7,238.1 413.2,239.0 412.7,233.7 408.5,227.0 404.3,228.6 400.5,231.0 392.9,238.1 389.0,239.9 389.0,248.9 384.8,252.9 382.2,248.6 377.1,237.3 376.8,230.1 372.1,230.4 369.5,225.5 366.5,222.2 357.6,222.3 350.0,221.2 349.2,218.9 340.7,217.4 338.2,213.2 334.8,213.2 338.2,219.9 340.7,223.7 344.9,224.2 349.0,220.3 349.5,223.7 354.8,227.3 351.4,233.7 346.6,237.3 341.5,239.0 329.7,244.6 326.8,244.8 325.4,238.1 319.5,229.2 312.7,217.0 312.6,214.1 308.7,213.2 311.5,210.6 312.7,207.2 314.4,201.0 308.5,200.8 305.1,200.4 299.7,198.9 298.0,194.2 298.0,191.3 294.1,190.6 292.4,192.4 294.1,196.8 292.4,200.0 289.5,197.9 286.5,189.1 284.8,186.8 276.6,179.7 274.2,180.4 276.6,184.5 280.5,188.4 284.8,192.0 282.2,191.3 281.4,195.7 280.0,196.8 280.5,192.4 274.6,188.6 271.2,185.6 268.1,182.3 263.6,185.4 258.8,185.2 258.8,187.9 253.9,192.4 252.9,195.7 250.0,199.3 244.1,201.0 242.7,199.3 238.1,198.9"/>
<polygon points="244.1,168.1 255.6,165.2 256.3,161.0 253.4,158.8 250.9,154.4 250.0,151.4 250.3,146.8 246.6,146.5 248.3,143.3 244.9,143.3 242.9,149.3 245.3,155.0 248.3,157.3 248.3,159.3 245.8,159.3 246.3,161.6 244.6,163.5 248.3,164.6"/>
<polygon points="243.2,162.4 243.2,156.5 240.7,153.5 236.5,156.8 235.9,163.0 239.0,164.3"/>
<polygon points="475.3,205.2 478.0,202.1 483.9,201.0 485.6,198.3 489.9,195.7 490.7,191.3 493.1,189.3 494.1,193.5 492.4,196.8 492.1,201.7 490.4,203.1 488.5,203.7 485.6,203.9 483.4,206.2 482.2,204.1 477.1,205.2 476.6,206.2 475.4,210.8 474.1,210.6 473.8,206.2"/>
<polygon points="490.7,187.9 493.6,180.0 499.7,183.8 496.1,187.9 492.4,186.8"/>
<polygon points="494.1,156.5 496.3,163.0 496.3,171.0 495.4,178.5 494.1,174.8 494.1,165.7"/>
<polygon points="459.3,222.3 459.9,223.7 458.2,228.3 457.0,225.5"/>
<polygon points="439.9,231.9 441.5,232.4 439.0,235.1 437.6,233.3"/>
<polygon points="457.6,234.6 460.7,234.8 460.2,239.0 463.6,244.3 466.1,247.7 465.3,249.8 467.8,253.8 466.1,256.3 460.2,254.6 462.7,251.7 461.0,248.6 458.5,243.1 456.8,239.0"/>
<polygon points="438.2,264.0 441.5,263.6 444.9,260.9 449.2,258.0 451.7,254.6 455.1,257.7 453.1,264.8 452.6,267.9 450.0,272.9 447.5,273.3 442.4,271.6 439.9,269.0 438.2,265.7"/>
<polygon points="414.9,257.0 419.5,259.7 423.7,263.1 428.8,268.2 433.1,271.6 432.7,276.3 430.5,276.3 426.3,273.3 423.7,269.0 420.7,263.6 417.8,260.6"/>
<polygon points="431.7,278.1 437.3,277.5 441.5,277.5 447.5,279.6 455.1,280.6 461.9,280.8 465.3,280.6 468.7,281.0 463.6,283.5 455.1,282.7 447.5,281.3 439.9,280.4 433.9,279.1"/>
<polygon points="456.0,265.1 458.2,264.3 465.3,263.8 461.9,265.8 457.6,265.7 459.3,268.2 462.4,268.2 460.2,270.7 461.9,274.1 460.7,275.0 458.5,271.6 457.6,276.0 456.0,275.8 455.1,271.6 456.5,267.3"/>
<polygon points="475.4,267.9 480.5,267.9 482.2,272.1 487.0,269.0 492.4,270.9 499.2,273.6 503.4,276.7 502.2,278.4 508.8,284.4 502.6,282.7 497.5,279.6 492.4,282.2 487.3,280.6 488.2,277.5 483.1,274.1 478.5,273.3 477.1,271.2"/>
<polygon points="445.8,304.7 447.0,312.2 448.3,322.8 448.7,328.4 453.4,329.9 462.7,327.8 467.0,324.4 475.4,322.8 480.5,325.2 483.4,329.5 487.0,325.2 487.3,331.1 491.5,336.2 496.6,337.9 501.4,338.4 507.7,334.7 509.9,327.2 513.1,319.8 513.1,311.2 509.3,307.5 506.0,301.6 501.4,299.3 499.7,292.2 496.6,291.0 494.9,284.9 493.2,288.7 492.1,296.6 489.0,296.3 483.1,292.2 485.6,287.3 478.0,286.1 473.8,288.7 472.1,292.2 467.0,290.5 460.7,296.6 459.3,300.2 451.7,302.2"/>
<polygon points="498.7,342.1 504.8,342.6 504.3,347.8 500.9,348.8 499.5,345.8"/>
<polygon points="546.1,328.7 549.7,333.7 556.0,335.6 553.4,339.5 550.4,344.2 549.5,338.4 548.0,339.0 549.3,335.1"/>
<polygon points="546.1,341.7 548.8,344.4 546.1,349.2 542.4,354.5 538.7,356.0 535.6,354.0 541.6,347.4"/>
<polygon points="389.0,249.8 392.1,253.8 390.7,256.3 388.7,254.6"/>
<polygon points="272.0,34.7 280.5,29.9 299.2,28.0 290.7,46.1 282.2,58.6 277.1,51.7"/>
<polygon points="340.7,88.7 346.6,80.2 351.7,69.6 368.7,55.6 365.3,62.8 355.1,72.8 350.0,84.8 346.6,94.5 343.2,93.9"/>
<polygon points="333.1,24.9 346.6,14.1 361.9,19.7 351.7,29.9 338.2,29.9"/>
<polygon points="414.4,39.2 419.5,19.7 431.4,39.2 422.9,47.8"/>
<polygon points="485.6,69.6 494.1,62.8 507.7,67.6 497.5,79.0 489.0,76.0"/>
<polygon points="165.0,-2.0 236.0,-2.0 234.5,14.0 225.0,30.0 221.0,48.5 217.5,64.0 215.0,80.0 211.0,96.0 199.0,109.0 188.6,119.0 182.0,135.0 179.4,139.0 172.0,125.0 168.0,105.0 163.0,88.0 158.0,72.0 150.0,64.0 141.0,60.0 135.0,49.0 140.0,40.0 147.0,30.0 150.0,20.0 158.0,10.0"/>
<polygon points="101.0,12.0 109.6,5.1 119.9,1.7 137.0,-1.7 149.0,3.4 151.5,8.6 145.5,15.4 140.4,22.3 135.3,30.8 130.1,39.4 126.7,49.7 119.9,53.1 116.4,42.8 111.3,46.2 102.7,42.8 95.9,37.7 92.5,29.1 95.9,18.8"/>
<polygon points="49.7,56.5 56.5,53.1 60.8,58.2 56.5,65.1 48.8,64.2"/>
<polygon points="59.1,46.2 68.5,42.0 75.3,46.2 76.2,54.8 68.5,57.4 59.9,54.8"/>
<polygon points="57.4,61.6 75.3,59.9 77.1,68.5 66.8,71.9 57.4,68.5"/>
<polygon points="77.1,38.5 85.6,37.7 89.9,44.5 88.2,51.4 79.6,51.4"/>
<polygon points="78.8,57.4 89.9,56.5 90.8,67.6 80.5,68.5"/>
<polygon points="93.3,59.1 106.2,57.4 119.9,59.9 121.6,68.5 116.4,72.8 102.7,71.1 94.2,68.5"/>
<polygon points="45.4,75.3 54.8,73.6 59.9,80.5 58.2,90.8 47.9,93.3 42.8,85.6"/>
<polygon points="57.4,83.9 68.5,80.5 80.5,82.2 85.6,90.8 84.8,102.7 75.3,107.0 65.1,104.5 58.2,97.6"/>
<polygon points="82.2,77.9 91.6,77.1 93.3,90.8 85.6,93.3 81.8,85.6"/>
<polygon points="94.5,77.9 102.7,77.1 103.6,92.5 97.6,96.7 94.2,89.0"/>
<polygon points="104.5,78.8 119.9,77.9 127.6,85.6 137.0,95.9 145.5,109.6 151.5,119.9 147.3,131.0 140.4,126.7 137.0,119.9 131.8,111.3 123.3,102.7 118.2,109.6 109.6,102.7 102.7,89.0"/>
<polygon points="128.2,448.0 128.2,444.3 133.5,431.2 141.4,418.1 147.9,407.6 154.5,403.7 158.4,408.9 154.5,418.1 159.7,426.0 167.6,433.9 180.7,439.1 196.5,444.3 215.0,445.0 230.0,442.0 267.0,435.2 293.2,431.2 319.5,426.0 337.9,418.1 345.7,415.5 372.0,423.3 390.4,426.0 398.2,418.1 419.2,411.5 437.6,415.5 456.0,418.1 466.5,412.9 487.5,418.1 503.2,423.3 519.0,431.2 532.1,437.8 542.6,444.3 542.6,448.0"/>
</clipPath>
</defs>
<rect width="555" height="444" fill="#06121f"/>
<ellipse cx="186" cy="88" rx="70" ry="60" fill="#0f2337" opacity="0.36" filter="url(#b8)"/>
<ellipse cx="321" cy="63" rx="120" ry="35" fill="#10253a" opacity="0.48" filter="url(#b8)"/>
<ellipse cx="84" cy="213" rx="90" ry="70" fill="#0e2236" opacity="0.36" filter="url(#b8)"/>
<ellipse cx="270" cy="154" rx="60" ry="40" fill="#112538" opacity="0.42" filter="url(#b8)"/>
<ellipse cx="457" cy="249" rx="60" ry="40" fill="#10263b" opacity="0.48" filter="url(#b8)"/>
<ellipse cx="152" cy="341" rx="40" ry="40" fill="#0e2236" opacity="0.48" filter="url(#b8)"/>
<ellipse cx="491" cy="330" rx="60" ry="30" fill="#0e2236" opacity="0.42" filter="url(#b8)"/>
<ellipse cx="355" cy="275" rx="50" ry="60" fill="#0c1d30" opacity="0.42" filter="url(#b8)"/>
<ellipse cx="203" cy="445" rx="200" ry="16" fill="#142a40" opacity="0.42" filter="url(#b8)"/>
<g filter="url(#b2)" opacity="0.42" fill="#1d3a4a" stroke="#1d3a4a" stroke-width="3" stroke-linejoin="round">
<polygon points="-31.4,118.2 -28.0,105.2 -21.2,97.0 -11.9,91.3 -0.8,95.5 14.4,100.0 24.6,101.9 36.4,97.0 43.2,100.4 58.5,105.2 70.3,107.5 82.2,107.5 89.0,105.2 90.7,90.3 95.8,87.6 97.5,98.0 104.2,105.2 109.3,100.4 115.3,105.2 113.6,114.0 107.6,114.9 105.9,124.2 96.6,129.8 93.2,142.9 96.6,148.4 109.3,153.5 113.9,160.5 118.6,164.9 119.8,157.3 122.9,151.4 121.2,142.9 122.0,130.2 131.4,133.4 134.8,135.2 135.6,142.6 139.0,144.2 142.4,137.6 144.1,137.6 149.2,149.9 156.8,158.2 159.0,163.0 151.7,167.8 140.7,167.8 136.4,173.5 143.2,171.5 144.1,176.0 150.0,179.7 142.4,184.5 139.8,180.9 134.8,184.0 133.9,188.4 128.0,191.1 125.4,195.7 124.6,202.7 119.5,206.6 115.6,212.2 117.6,219.3 117.0,222.3 114.4,220.8 113.2,217.4 111.0,213.2 104.2,212.6 100.9,214.7 94.1,214.1 88.5,218.0 87.8,227.3 91.0,234.1 97.5,234.4 100.0,230.1 105.9,229.2 104.7,235.5 103.4,239.0 111.0,239.4 112.2,245.1 111.5,248.6 115.3,251.2 118.6,250.3 122.4,251.9 121.2,254.1 117.8,253.8 112.7,252.4 108.1,248.6 104.9,244.3 98.3,242.5 93.2,238.7 89.0,239.2 80.5,235.5 74.6,231.0 74.9,227.3 68.6,221.6 62.4,214.1 59.0,209.8 62.7,218.0 67.8,226.4 63.6,222.7 59.3,217.0 54.9,208.2 49.0,204.1 45.8,197.2 42.7,191.5 43.2,178.5 42.0,172.5 44.9,171.0 37.3,165.7 32.2,155.9 27.1,146.8 21.2,143.6 16.1,138.6 5.9,135.9 -3.4,141.0 -5.9,145.2 -14.4,149.9 -22.9,154.4 -17.8,143.6 -21.2,138.6 -27.1,135.2 -25.4,128.0 -19.5,122.2 -28.0,122.2"/>
<polygon points="105.9,118.2 116.1,124.2 111.0,129.8 105.9,126.1"/>
<polygon points="152.9,174.5 158.5,164.1 163.6,172.3 163.6,176.8 159.3,176.0"/>
<polygon points="109.3,228.3 117.8,226.1 127.6,231.5 121.7,232.1 116.1,228.3"/>
<polygon points="127.3,234.6 130.5,232.1 137.5,234.2 132.2,236.0"/>
<polygon points="211.9,118.2 216.1,114.5 226.3,114.0 230.5,120.2 222.9,126.5 215.3,124.9"/>
<polygon points="122.4,251.9 125.4,248.1 131.4,246.0 138.1,247.7 148.3,248.3 151.7,252.0 156.8,256.3 165.3,258.9 168.7,264.8 172.0,268.2 178.8,270.7 185.6,271.2 194.1,275.8 194.1,281.8 187.3,288.7 187.3,297.5 183.9,304.7 177.1,307.5 171.2,312.2 170.9,316.9 163.6,327.4 157.6,329.5 155.9,333.0 155.9,336.2 148.3,338.4 143.2,342.8 145.8,346.2 142.4,352.1 139.0,354.5 141.5,359.5 136.4,367.3 137.3,371.4 143.2,377.7 138.1,380.1 133.1,375.7 128.0,370.0 125.4,359.5 128.0,349.7 128.8,340.6 128.8,334.1 132.2,323.8 132.5,316.0 134.2,306.6 134.2,298.1 124.6,290.5 121.2,283.5 116.1,276.7 116.1,273.3 117.8,270.7 116.1,268.2 117.8,264.8 120.3,262.3 122.0,259.7 122.0,255.5"/>
<polygon points="243.2,201.4 250.0,202.7 258.5,199.3 270.4,198.3 272.0,206.2 278.8,208.6 287.3,211.2 287.3,207.6 295.8,209.8 305.9,210.2 308.5,213.2 311.0,218.0 314.4,226.4 316.6,231.9 319.5,239.9 326.3,246.0 326.8,246.9 328.8,248.6 339.8,246.4 339.0,251.2 334.8,258.9 328.0,264.8 323.7,269.6 319.5,275.0 320.4,280.1 322.0,285.3 322.0,292.2 312.7,301.1 313.6,308.4 309.0,312.2 308.5,316.9 304.2,322.8 299.2,327.4 290.7,328.2 287.3,329.5 284.4,327.8 283.1,321.8 278.8,314.1 278.0,305.7 273.7,296.6 276.3,287.0 275.4,281.0 273.7,275.0 268.7,268.2 269.5,263.1 269.5,259.7 263.6,259.2 260.2,255.8 255.1,256.3 248.3,258.0 240.7,259.0 234.8,255.1 230.9,251.2 225.4,246.0 223.7,241.3 225.9,233.7 224.6,230.1 228.0,223.7 231.4,217.4 236.5,213.6 237.0,209.2 242.4,204.8"/>
<polygon points="337.0,287.0 338.7,293.1 333.9,309.9 329.7,311.2 327.1,304.7 328.8,294.9 334.8,289.6"/>
<polygon points="237.6,195.3 238.5,185.2 250.0,184.5 251.4,178.5 245.4,172.8 250.9,171.7 255.9,166.0 260.2,163.3 267.0,158.2 267.8,148.4 271.2,146.2 270.4,155.9 277.1,157.3 285.6,156.2 289.0,151.4 294.1,147.4 293.2,141.0 304.2,138.6 295.8,137.9 290.7,136.9 289.8,128.0 295.8,119.4 290.7,117.4 282.7,133.4 284.8,140.3 281.4,149.9 275.4,152.9 272.0,142.0 267.0,145.2 261.9,142.0 261.9,131.6 270.4,124.2 277.1,109.7 285.6,99.0 295.8,92.9 305.9,96.5 309.3,101.4 322.9,113.2 317.8,115.3 309.3,112.7 312.7,123.0 321.2,121.4 328.0,116.1 328.0,105.2 344.9,106.1 355.1,102.8 367.0,102.8 370.4,81.9 377.1,89.2 380.5,84.8 389.0,79.0 400.9,66.3 419.5,62.8 429.7,50.2 443.2,62.8 444.9,77.2 468.7,84.8 473.8,92.9 490.7,83.7 507.7,90.3 524.6,99.5 541.6,98.0 558.5,102.8 558.5,120.2 555.1,129.8 541.6,138.6 529.7,145.8 528.8,154.4 518.7,165.7 517.0,148.4 521.2,133.4 516.1,141.0 495.8,141.0 483.1,155.3 492.4,160.2 491.5,173.5 482.2,184.5 474.6,186.8 469.5,192.9 472.9,198.9 472.1,202.7 467.5,204.1 468.2,197.2 465.3,193.3 459.3,194.6 460.2,190.9 453.4,194.2 455.1,197.9 461.0,198.9 456.0,203.1 459.9,211.2 459.3,217.0 453.4,223.7 445.8,227.9 439.9,230.1 437.3,228.8 433.1,233.7 438.2,244.3 434.8,248.6 431.4,251.5 431.0,248.6 426.3,245.1 422.9,243.6 422.1,249.5 428.8,264.0 425.1,261.8 420.0,252.9 420.4,249.5 418.7,238.1 413.2,239.0 412.7,233.7 408.5,227.0 404.3,228.6 400.5,231.0 392.9,238.1 389.0,239.9 389.0,248.9 384.8,252.9 382.2,248.6 377.1,237.3 376.8,230.1 372.1,230.4 369.5,225.5 366.5,222.2 357.6,222.3 350.0,221.2 349.2,218.9 340.7,217.4 338.2,213.2 334.8,213.2 338.2,219.9 340.7,223.7 344.9,224.2 349.0,220.3 349.5,223.7 354.8,227.3 351.4,233.7 346.6,237.3 341.5,239.0 329.7,244.6 326.8,244.8 325.4,238.1 319.5,229.2 312.7,217.0 312.6,214.1 308.7,213.2 311.5,210.6 312.7,207.2 314.4,201.0 308.5,200.8 305.1,200.4 299.7,198.9 298.0,194.2 298.0,191.3 294.1,190.6 292.4,192.4 294.1,196.8 292.4,200.0 289.5,197.9 286.5,189.1 284.8,186.8 276.6,179.7 274.2,180.4 276.6,184.5 280.5,188.4 284.8,192.0 282.2,191.3 281.4,195.7 280.0,196.8 280.5,192.4 274.6,188.6 271.2,185.6 268.1,182.3 263.6,185.4 258.8,185.2 258.8,187.9 253.9,192.4 252.9,195.7 250.0,199.3 244.1,201.0 242.7,199.3 238.1,198.9"/>
<polygon points="244.1,168.1 255.6,165.2 256.3,161.0 253.4,158.8 250.9,154.4 250.0,151.4 250.3,146.8 246.6,146.5 248.3,143.3 244.9,143.3 242.9,149.3 245.3,155.0 248.3,157.3 248.3,159.3 245.8,159.3 246.3,161.6 244.6,163.5 248.3,164.6"/>
<polygon points="243.2,162.4 243.2,156.5 240.7,153.5 236.5,156.8 235.9,163.0 239.0,164.3"/>
<polygon points="475.3,205.2 478.0,202.1 483.9,201.0 485.6,198.3 489.9,195.7 490.7,191.3 493.1,189.3 494.1,193.5 492.4,196.8 492.1,201.7 490.4,203.1 488.5,203.7 485.6,203.9 483.4,206.2 482.2,204.1 477.1,205.2 476.6,206.2 475.4,210.8 474.1,210.6 473.8,206.2"/>
<polygon points="490.7,187.9 493.6,180.0 499.7,183.8 496.1,187.9 492.4,186.8"/>
<polygon points="494.1,156.5 496.3,163.0 496.3,171.0 495.4,178.5 494.1,174.8 494.1,165.7"/>
<polygon points="459.3,222.3 459.9,223.7 458.2,228.3 457.0,225.5"/>
<polygon points="439.9,231.9 441.5,232.4 439.0,235.1 437.6,233.3"/>
<polygon points="457.6,234.6 460.7,234.8 460.2,239.0 463.6,244.3 466.1,247.7 465.3,249.8 467.8,253.8 466.1,256.3 460.2,254.6 462.7,251.7 461.0,248.6 458.5,243.1 456.8,239.0"/>
<polygon points="438.2,264.0 441.5,263.6 444.9,260.9 449.2,258.0 451.7,254.6 455.1,257.7 453.1,264.8 452.6,267.9 450.0,272.9 447.5,273.3 442.4,271.6 439.9,269.0 438.2,265.7"/>
<polygon points="414.9,257.0 419.5,259.7 423.7,263.1 428.8,268.2 433.1,271.6 432.7,276.3 430.5,276.3 426.3,273.3 423.7,269.0 420.7,263.6 417.8,260.6"/>
<polygon points="431.7,278.1 437.3,277.5 441.5,277.5 447.5,279.6 455.1,280.6 461.9,280.8 465.3,280.6 468.7,281.0 463.6,283.5 455.1,282.7 447.5,281.3 439.9,280.4 433.9,279.1"/>
<polygon points="456.0,265.1 458.2,264.3 465.3,263.8 461.9,265.8 457.6,265.7 459.3,268.2 462.4,268.2 460.2,270.7 461.9,274.1 460.7,275.0 458.5,271.6 457.6,276.0 456.0,275.8 455.1,271.6 456.5,267.3"/>
<polygon points="475.4,267.9 480.5,267.9 482.2,272.1 487.0,269.0 492.4,270.9 499.2,273.6 503.4,276.7 502.2,278.4 508.8,284.4 502.6,282.7 497.5,279.6 492.4,282.2 487.3,280.6 488.2,277.5 483.1,274.1 478.5,273.3 477.1,271.2"/>
<polygon points="445.8,304.7 447.0,312.2 448.3,322.8 448.7,328.4 453.4,329.9 462.7,327.8 467.0,324.4 475.4,322.8 480.5,325.2 483.4,329.5 487.0,325.2 487.3,331.1 491.5,336.2 496.6,337.9 501.4,338.4 507.7,334.7 509.9,327.2 513.1,319.8 513.1,311.2 509.3,307.5 506.0,301.6 501.4,299.3 499.7,292.2 496.6,291.0 494.9,284.9 493.2,288.7 492.1,296.6 489.0,296.3 483.1,292.2 485.6,287.3 478.0,286.1 473.8,288.7 472.1,292.2 467.0,290.5 460.7,296.6 459.3,300.2 451.7,302.2"/>
<polygon points="498.7,342.1 504.8,342.6 504.3,347.8 500.9,348.8 499.5,345.8"/>
<polygon points="546.1,328.7 549.7,333.7 556.0,335.6 553.4,339.5 550.4,344.2 549.5,338.4 548.0,339.0 549.3,335.1"/>
<polygon points="546.1,341.7 548.8,344.4 546.1,349.2 542.4,354.5 538.7,356.0 535.6,354.0 541.6,347.4"/>
<polygon points="389.0,249.8 392.1,253.8 390.7,256.3 388.7,254.6"/>
<polygon points="272.0,34.7 280.5,29.9 299.2,28.0 290.7,46.1 282.2,58.6 277.1,51.7"/>
<polygon points="340.7,88.7 346.6,80.2 351.7,69.6 368.7,55.6 365.3,62.8 355.1,72.8 350.0,84.8 346.6,94.5 343.2,93.9"/>
<polygon points="333.1,24.9 346.6,14.1 361.9,19.7 351.7,29.9 338.2,29.9"/>
<polygon points="414.4,39.2 419.5,19.7 431.4,39.2 422.9,47.8"/>
<polygon points="485.6,69.6 494.1,62.8 507.7,67.6 497.5,79.0 489.0,76.0"/>
<polygon points="165.0,-2.0 236.0,-2.0 234.5,14.0 225.0,30.0 221.0,48.5 217.5,64.0 215.0,80.0 211.0,96.0 199.0,109.0 188.6,119.0 182.0,135.0 179.4,139.0 172.0,125.0 168.0,105.0 163.0,88.0 158.0,72.0 150.0,64.0 141.0,60.0 135.0,49.0 140.0,40.0 147.0,30.0 150.0,20.0 158.0,10.0"/>
<polygon points="101.0,12.0 109.6,5.1 119.9,1.7 137.0,-1.7 149.0,3.4 151.5,8.6 145.5,15.4 140.4,22.3 135.3,30.8 130.1,39.4 126.7,49.7 119.9,53.1 116.4,42.8 111.3,46.2 102.7,42.8 95.9,37.7 92.5,29.1 95.9,18.8"/>
<polygon points="49.7,56.5 56.5,53.1 60.8,58.2 56.5,65.1 48.8,64.2"/>
<polygon points="59.1,46.2 68.5,42.0 75.3,46.2 76.2,54.8 68.5,57.4 59.9,54.8"/>
<polygon points="57.4,61.6 75.3,59.9 77.1,68.5 66.8,71.9 57.4,68.5"/>
<polygon points="77.1,38.5 85.6,37.7 89.9,44.5 88.2,51.4 79.6,51.4"/>
<polygon points="78.8,57.4 89.9,56.5 90.8,67.6 80.5,68.5"/>
<polygon points="93.3,59.1 106.2,57.4 119.9,59.9 121.6,68.5 116.4,72.8 102.7,71.1 94.2,68.5"/>
<polygon points="45.4,75.3 54.8,73.6 59.9,80.5 58.2,90.8 47.9,93.3 42.8,85.6"/>
<polygon points="57.4,83.9 68.5,80.5 80.5,82.2 85.6,90.8 84.8,102.7 75.3,107.0 65.1,104.5 58.2,97.6"/>
<polygon points="82.2,77.9 91.6,77.1 93.3,90.8 85.6,93.3 81.8,85.6"/>
<polygon points="94.5,77.9 102.7,77.1 103.6,92.5 97.6,96.7 94.2,89.0"/>
<polygon points="104.5,78.8 119.9,77.9 127.6,85.6 137.0,95.9 145.5,109.6 151.5,119.9 147.3,131.0 140.4,126.7 137.0,119.9 131.8,111.3 123.3,102.7 118.2,109.6 109.6,102.7 102.7,89.0"/>
</g>
<g filter="url(#b1)">
<g fill="#626b4b">
<polygon points="-31.4,118.2 -28.0,105.2 -21.2,97.0 -11.9,91.3 -0.8,95.5 14.4,100.0 24.6,101.9 36.4,97.0 43.2,100.4 58.5,105.2 70.3,107.5 82.2,107.5 89.0,105.2 90.7,90.3 95.8,87.6 97.5,98.0 104.2,105.2 109.3,100.4 115.3,105.2 113.6,114.0 107.6,114.9 105.9,124.2 96.6,129.8 93.2,142.9 96.6,148.4 109.3,153.5 113.9,160.5 118.6,164.9 119.8,157.3 122.9,151.4 121.2,142.9 122.0,130.2 131.4,133.4 134.8,135.2 135.6,142.6 139.0,144.2 142.4,137.6 144.1,137.6 149.2,149.9 156.8,158.2 159.0,163.0 151.7,167.8 140.7,167.8 136.4,173.5 143.2,171.5 144.1,176.0 150.0,179.7 142.4,184.5 139.8,180.9 134.8,184.0 133.9,188.4 128.0,191.1 125.4,195.7 124.6,202.7 119.5,206.6 115.6,212.2 117.6,219.3 117.0,222.3 114.4,220.8 113.2,217.4 111.0,213.2 104.2,212.6 100.9,214.7 94.1,214.1 88.5,218.0 87.8,227.3 91.0,234.1 97.5,234.4 100.0,230.1 105.9,229.2 104.7,235.5 103.4,239.0 111.0,239.4 112.2,245.1 111.5,248.6 115.3,251.2 118.6,250.3 122.4,251.9 121.2,254.1 117.8,253.8 112.7,252.4 108.1,248.6 104.9,244.3 98.3,242.5 93.2,238.7 89.0,239.2 80.5,235.5 74.6,231.0 74.9,227.3 68.6,221.6 62.4,214.1 59.0,209.8 62.7,218.0 67.8,226.4 63.6,222.7 59.3,217.0 54.9,208.2 49.0,204.1 45.8,197.2 42.7,191.5 43.2,178.5 42.0,172.5 44.9,171.0 37.3,165.7 32.2,155.9 27.1,146.8 21.2,143.6 16.1,138.6 5.9,135.9 -3.4,141.0 -5.9,145.2 -14.4,149.9 -22.9,154.4 -17.8,143.6 -21.2,138.6 -27.1,135.2 -25.4,128.0 -19.5,122.2 -28.0,122.2"/>
<polygon points="105.9,118.2 116.1,124.2 111.0,129.8 105.9,126.1"/>
<polygon points="152.9,174.5 158.5,164.1 163.6,172.3 163.6,176.8 159.3,176.0"/>
<polygon points="109.3,228.3 117.8,226.1 127.6,231.5 121.7,232.1 116.1,228.3"/>
<polygon points="127.3,234.6 130.5,232.1 137.5,234.2 132.2,236.0"/>
<polygon points="211.9,118.2 216.1,114.5 226.3,114.0 230.5,120.2 222.9,126.5 215.3,124.9"/>
<polygon points="122.4,251.9 125.4,248.1 131.4,246.0 138.1,247.7 148.3,248.3 151.7,252.0 156.8,256.3 165.3,258.9 168.7,264.8 172.0,268.2 178.8,270.7 185.6,271.2 194.1,275.8 194.1,281.8 187.3,288.7 187.3,297.5 183.9,304.7 177.1,307.5 171.2,312.2 170.9,316.9 163.6,327.4 157.6,329.5 155.9,333.0 155.9,336.2 148.3,338.4 143.2,342.8 145.8,346.2 142.4,352.1 139.0,354.5 141.5,359.5 136.4,367.3 137.3,371.4 143.2,377.7 138.1,380.1 133.1,375.7 128.0,370.0 125.4,359.5 128.0,349.7 128.8,340.6 128.8,334.1 132.2,323.8 132.5,316.0 134.2,306.6 134.2,298.1 124.6,290.5 121.2,283.5 116.1,276.7 116.1,273.3 117.8,270.7 116.1,268.2 117.8,264.8 120.3,262.3 122.0,259.7 122.0,255.5"/>
<polygon points="243.2,201.4 250.0,202.7 258.5,199.3 270.4,198.3 272.0,206.2 278.8,208.6 287.3,211.2 287.3,207.6 295.8,209.8 305.9,210.2 308.5,213.2 311.0,218.0 314.4,226.4 316.6,231.9 319.5,239.9 326.3,246.0 326.8,246.9 328.8,248.6 339.8,246.4 339.0,251.2 334.8,258.9 328.0,264.8 323.7,269.6 319.5,275.0 320.4,280.1 322.0,285.3 322.0,292.2 312.7,301.1 313.6,308.4 309.0,312.2 308.5,316.9 304.2,322.8 299.2,327.4 290.7,328.2 287.3,329.5 284.4,327.8 283.1,321.8 278.8,314.1 278.0,305.7 273.7,296.6 276.3,287.0 275.4,281.0 273.7,275.0 268.7,268.2 269.5,263.1 269.5,259.7 263.6,259.2 260.2,255.8 255.1,256.3 248.3,258.0 240.7,259.0 234.8,255.1 230.9,251.2 225.4,246.0 223.7,241.3 225.9,233.7 224.6,230.1 228.0,223.7 231.4,217.4 236.5,213.6 237.0,209.2 242.4,204.8"/>
<polygon points="337.0,287.0 338.7,293.1 333.9,309.9 329.7,311.2 327.1,304.7 328.8,294.9 334.8,289.6"/>
<polygon points="237.6,195.3 238.5,185.2 250.0,184.5 251.4,178.5 245.4,172.8 250.9,171.7 255.9,166.0 260.2,163.3 267.0,158.2 267.8,148.4 271.2,146.2 270.4,155.9 277.1,157.3 285.6,156.2 289.0,151.4 294.1,147.4 293.2,141.0 304.2,138.6 295.8,137.9 290.7,136.9 289.8,128.0 295.8,119.4 290.7,117.4 282.7,133.4 284.8,140.3 281.4,149.9 275.4,152.9 272.0,142.0 267.0,145.2 261.9,142.0 261.9,131.6 270.4,124.2 277.1,109.7 285.6,99.0 295.8,92.9 305.9,96.5 309.3,101.4 322.9,113.2 317.8,115.3 309.3,112.7 312.7,123.0 321.2,121.4 328.0,116.1 328.0,105.2 344.9,106.1 355.1,102.8 367.0,102.8 370.4,81.9 377.1,89.2 380.5,84.8 389.0,79.0 400.9,66.3 419.5,62.8 429.7,50.2 443.2,62.8 444.9,77.2 468.7,84.8 473.8,92.9 490.7,83.7 507.7,90.3 524.6,99.5 541.6,98.0 558.5,102.8 558.5,120.2 555.1,129.8 541.6,138.6 529.7,145.8 528.8,154.4 518.7,165.7 517.0,148.4 521.2,133.4 516.1,141.0 495.8,141.0 483.1,155.3 492.4,160.2 491.5,173.5 482.2,184.5 474.6,186.8 469.5,192.9 472.9,198.9 472.1,202.7 467.5,204.1 468.2,197.2 465.3,193.3 459.3,194.6 460.2,190.9 453.4,194.2 455.1,197.9 461.0,198.9 456.0,203.1 459.9,211.2 459.3,217.0 453.4,223.7 445.8,227.9 439.9,230.1 437.3,228.8 433.1,233.7 438.2,244.3 434.8,248.6 431.4,251.5 431.0,248.6 426.3,245.1 422.9,243.6 422.1,249.5 428.8,264.0 425.1,261.8 420.0,252.9 420.4,249.5 418.7,238.1 413.2,239.0 412.7,233.7 408.5,227.0 404.3,228.6 400.5,231.0 392.9,238.1 389.0,239.9 389.0,248.9 384.8,252.9 382.2,248.6 377.1,237.3 376.8,230.1 372.1,230.4 369.5,225.5 366.5,222.2 357.6,222.3 350.0,221.2 349.2,218.9 340.7,217.4 338.2,213.2 334.8,213.2 338.2,219.9 340.7,223.7 344.9,224.2 349.0,220.3 349.5,223.7 354.8,227.3 351.4,233.7 346.6,237.3 341.5,239.0 329.7,244.6 326.8,244.8 325.4,238.1 319.5,229.2 312.7,217.0 312.6,214.1 308.7,213.2 311.5,210.6 312.7,207.2 314.4,201.0 308.5,200.8 305.1,200.4 299.7,198.9 298.0,194.2 298.0,191.3 294.1,190.6 292.4,192.4 294.1,196.8 292.4,200.0 289.5,197.9 286.5,189.1 284.8,186.8 276.6,179.7 274.2,180.4 276.6,184.5 280.5,188.4 284.8,192.0 282.2,191.3 281.4,195.7 280.0,196.8 280.5,192.4 274.6,188.6 271.2,185.6 268.1,182.3 263.6,185.4 258.8,185.2 258.8,187.9 253.9,192.4 252.9,195.7 250.0,199.3 244.1,201.0 242.7,199.3 238.1,198.9"/>
<polygon points="244.1,168.1 255.6,165.2 256.3,161.0 253.4,158.8 250.9,154.4 250.0,151.4 250.3,146.8 246.6,146.5 248.3,143.3 244.9,143.3 242.9,149.3 245.3,155.0 248.3,157.3 248.3,159.3 245.8,159.3 246.3,161.6 244.6,163.5 248.3,164.6"/>
<polygon points="243.2,162.4 243.2,156.5 240.7,153.5 236.5,156.8 235.9,163.0 239.0,164.3"/>
<polygon points="475.3,205.2 478.0,202.1 483.9,201.0 485.6,198.3 489.9,195.7 490.7,191.3 493.1,189.3 494.1,193.5 492.4,196.8 492.1,201.7 490.4,203.1 488.5,203.7 485.6,203.9 483.4,206.2 482.2,204.1 477.1,205.2 476.6,206.2 475.4,210.8 474.1,210.6 473.8,206.2"/>
<polygon points="490.7,187.9 493.6,180.0 499.7,183.8 496.1,187.9 492.4,186.8"/>
<polygon points="494.1,156.5 496.3,163.0 496.3,171.0 495.4,178.5 494.1,174.8 494.1,165.7"/>
<polygon points="459.3,222.3 459.9,223.7 458.2,228.3 457.0,225.5"/>
<polygon points="439.9,231.9 441.5,232.4 439.0,235.1 437.6,233.3"/>
<polygon points="457.6,234.6 460.7,234.8 460.2,239.0 463.6,244.3 466.1,247.7 465.3,249.8 467.8,253.8 466.1,256.3 460.2,254.6 462.7,251.7 461.0,248.6 458.5,243.1 456.8,239.0"/>
<polygon points="438.2,264.0 441.5,263.6 444.9,260.9 449.2,258.0 451.7,254.6 455.1,257.7 453.1,264.8 452.6,267.9 450.0,272.9 447.5,273.3 442.4,271.6 439.9,269.0 438.2,265.7"/>
<polygon points="414.9,257.0 419.5,259.7 423.7,263.1 428.8,268.2 433.1,271.6 432.7,276.3 430.5,276.3 426.3,273.3 423.7,269.0 420.7,263.6 417.8,260.6"/>
<polygon points="431.7,278.1 437.3,277.5 441.5,277.5 447.5,279.6 455.1,280.6 461.9,280.8 465.3,280.6 468.7,281.0 463.6,283.5 455.1,282.7 447.5,281.3 439.9,280.4 433.9,279.1"/>
<polygon points="456.0,265.1 458.2,264.3 465.3,263.8 461.9,265.8 457.6,265.7 459.3,268.2 462.4,268.2 460.2,270.7 461.9,274.1 460.7,275.0 458.5,271.6 457.6,276.0 456.0,275.8 455.1,271.6 456.5,267.3"/>
<polygon points="475.4,267.9 480.5,267.9 482.2,272.1 487.0,269.0 492.4,270.9 499.2,273.6 503.4,276.7 502.2,278.4 508.8,284.4 502.6,282.7 497.5,279.6 492.4,282.2 487.3,280.6 488.2,277.5 483.1,274.1 478.5,273.3 477.1,271.2"/>
<polygon points="445.8,304.7 447.0,312.2 448.3,322.8 448.7,328.4 453.4,329.9 462.7,327.8 467.0,324.4 475.4,322.8 480.5,325.2 483.4,329.5 487.0,325.2 487.3,331.1 491.5,336.2 496.6,337.9 501.4,338.4 507.7,334.7 509.9,327.2 513.1,319.8 513.1,311.2 509.3,307.5 506.0,301.6 501.4,299.3 499.7,292.2 496.6,291.0 494.9,284.9 493.2,288.7 492.1,296.6 489.0,296.3 483.1,292.2 485.6,287.3 478.0,286.1 473.8,288.7 472.1,292.2 467.0,290.5 460.7,296.6 459.3,300.2 451.7,302.2"/>
<polygon points="498.7,342.1 504.8,342.6 504.3,347.8 500.9,348.8 499.5,345.8"/>
<polygon points="546.1,328.7 549.7,333.7 556.0,335.6 553.4,339.5 550.4,344.2 549.5,338.4 548.0,339.0 549.3,335.1"/>
<polygon points="546.1,341.7 548.8,344.4 546.1,349.2 542.4,354.5 538.7,356.0 535.6,354.0 541.6,347.4"/>
<polygon points="389.0,249.8 392.1,253.8 390.7,256.3 388.7,254.6"/>
<polygon points="272.0,34.7 280.5,29.9 299.2,28.0 290.7,46.1 282.2,58.6 277.1,51.7"/>
<polygon points="340.7,88.7 346.6,80.2 351.7,69.6 368.7,55.6 365.3,62.8 355.1,72.8 350.0,84.8 346.6,94.5 343.2,93.9"/>
<polygon points="333.1,24.9 346.6,14.1 361.9,19.7 351.7,29.9 338.2,29.9"/>
<polygon points="414.4,39.2 419.5,19.7 431.4,39.2 422.9,47.8"/>
<polygon points="485.6,69.6 494.1,62.8 507.7,67.6 497.5,79.0 489.0,76.0"/>
<polygon points="101.0,12.0 109.6,5.1 119.9,1.7 137.0,-1.7 149.0,3.4 151.5,8.6 145.5,15.4 140.4,22.3 135.3,30.8 130.1,39.4 126.7,49.7 119.9,53.1 116.4,42.8 111.3,46.2 102.7,42.8 95.9,37.7 92.5,29.1 95.9,18.8"/>
<polygon points="49.7,56.5 56.5,53.1 60.8,58.2 56.5,65.1 48.8,64.2"/>
<polygon points="59.1,46.2 68.5,42.0 75.3,46.2 76.2,54.8 68.5,57.4 59.9,54.8"/>
<polygon points="57.4,61.6 75.3,59.9 77.1,68.5 66.8,71.9 57.4,68.5"/>
<polygon points="77.1,38.5 85.6,37.7 89.9,44.5 88.2,51.4 79.6,51.4"/>
<polygon points="78.8,57.4 89.9,56.5 90.8,67.6 80.5,68.5"/>
<polygon points="93.3,59.1 106.2,57.4 119.9,59.9 121.6,68.5 116.4,72.8 102.7,71.1 94.2,68.5"/>
<polygon points="45.4,75.3 54.8,73.6 59.9,80.5 58.2,90.8 47.9,93.3 42.8,85.6"/>
<polygon points="57.4,83.9 68.5,80.5 80.5,82.2 85.6,90.8 84.8,102.7 75.3,107.0 65.1,104.5 58.2,97.6"/>
<polygon points="82.2,77.9 91.6,77.1 93.3,90.8 85.6,93.3 81.8,85.6"/>
<polygon points="94.5,77.9 102.7,77.1 103.6,92.5 97.6,96.7 94.2,89.0"/>
<polygon points="104.5,78.8 119.9,77.9 127.6,85.6 137.0,95.9 145.5,109.6 151.5,119.9 147.3,131.0 140.4,126.7 137.0,119.9 131.8,111.3 123.3,102.7 118.2,109.6 109.6,102.7 102.7,89.0"/>
</g>
</g>
<g clip-path="url(#lc)">
<ellipse cx="270" cy="226" rx="62" ry="19" fill="#877e60" opacity="0.95" filter="url(#b4)"/>
<ellipse cx="296" cy="223" rx="30" ry="14" fill="#8b8163" opacity="0.9" filter="url(#b4)"/>
<ellipse cx="240" cy="225" rx="20" ry="14" fill="#857c5e" opacity="0.9" filter="url(#b4)"/>
<ellipse cx="331" cy="225" rx="20" ry="18" fill="#8e7e5e" opacity="0.95" filter="url(#b4)"/>
<ellipse cx="348" cy="209" rx="16" ry="10" fill="#7e7e5a" opacity="0.9" filter="url(#b4)"/>
<ellipse cx="358" cy="188" rx="28" ry="10" fill="#797a56" opacity="0.85" filter="url(#b4)"/>
<ellipse cx="397" cy="192" rx="26" ry="9" fill="#7b7c58" opacity="0.85" filter="url(#b4)"/>
<ellipse cx="423" cy="186" rx="22" ry="8" fill="#767855" opacity="0.8" filter="url(#b4)"/>
<ellipse cx="403" cy="207" rx="16" ry="6" fill="#757756" opacity="0.8" filter="url(#b4)"/>
<ellipse cx="372" cy="217" rx="8" ry="8" fill="#7b7c58" opacity="0.8" filter="url(#b4)"/>
<ellipse cx="287" cy="308" rx="14" ry="12" fill="#757652" opacity="0.85" filter="url(#b4)"/>
<ellipse cx="325" cy="256" rx="12" ry="12" fill="#7c7c56" opacity="0.8" filter="url(#b4)"/>
<ellipse cx="287" cy="266" rx="22" ry="12" fill="#495c3a" opacity="0.9" filter="url(#b4)"/>
<ellipse cx="245" cy="253" rx="14" ry="5" fill="#52613e" opacity="0.7" filter="url(#b4)"/>
<ellipse cx="152" cy="273" rx="26" ry="18" fill="#475c3a" opacity="0.95" filter="url(#b4)"/>
<ellipse cx="148" cy="298" rx="10" ry="10" fill="#5c6a43" opacity="0.6" filter="url(#b4)"/>
<ellipse cx="138" cy="345" rx="8" ry="26" fill="#6d714f" opacity="0.85" filter="url(#b4)"/>
<ellipse cx="135" cy="305" rx="4" ry="22" fill="#737553" opacity="0.8" filter="url(#b4)"/>
<ellipse cx="67" cy="197" rx="18" ry="14" fill="#6e734f" opacity="0.85" filter="url(#b4)"/>
<ellipse cx="77" cy="221" rx="10" ry="10" fill="#6d724f" opacity="0.8" filter="url(#b4)"/>
<ellipse cx="84" cy="151" rx="50" ry="16" fill="#52603f" opacity="0.8" filter="url(#b4)"/>
<ellipse cx="109" cy="201" rx="16" ry="10" fill="#53643e" opacity="0.8" filter="url(#b4)"/>
<ellipse cx="84" cy="116" rx="60" ry="10" fill="#666c4b" opacity="0.8" filter="url(#b4)"/>
<ellipse cx="101" cy="76" rx="60" ry="16" fill="#6c704f" opacity="0.85" filter="url(#b4)"/>
<ellipse cx="287" cy="168" rx="30" ry="10" fill="#58693e" opacity="0.7" filter="url(#b4)"/>
<ellipse cx="355" cy="139" rx="70" ry="16" fill="#54643f" opacity="0.8" filter="url(#b4)"/>
<ellipse cx="440" cy="139" rx="60" ry="18" fill="#58643e" opacity="0.8" filter="url(#b4)"/>
<ellipse cx="423" cy="98" rx="70" ry="10" fill="#636a49" opacity="0.8" filter="url(#b4)"/>
<ellipse cx="508" cy="116" rx="40" ry="12" fill="#646b4a" opacity="0.8" filter="url(#b4)"/>
<ellipse cx="386" cy="232" rx="10" ry="12" fill="#70744e" opacity="0.7" filter="url(#b4)"/>
<ellipse cx="440" cy="217" rx="16" ry="10" fill="#58663e" opacity="0.8" filter="url(#b4)"/>
<ellipse cx="426" cy="239" rx="10" ry="12" fill="#52643d" opacity="0.8" filter="url(#b4)"/>
<ellipse cx="448" cy="266" rx="20" ry="8" fill="#4d613a" opacity="0.8" filter="url(#b4)"/>
<ellipse cx="491" cy="275" rx="16" ry="6" fill="#4d613a" opacity="0.8" filter="url(#b4)"/>
<ellipse cx="95" cy="55" rx="62" ry="48" fill="#716a55" opacity=".85" filter="url(#b4)"/>
<ellipse cx="477" cy="310" rx="26" ry="16" fill="#7a704f" opacity="0.95" filter="url(#b4)"/>
<ellipse cx="460" cy="312" rx="12" ry="12" fill="#7b7350" opacity="0.8" filter="url(#b4)"/>
<ellipse cx="501" cy="320" rx="8" ry="16" fill="#656c48" opacity="0.8" filter="url(#b4)"/>
<rect width="555" height="444" filter="url(#tx)" fill="#1b2412" opacity=".42"/>
<ellipse cx="118" cy="12" rx="14" ry="7" fill="#f2f3f3" opacity="0.95" filter="url(#b2)" transform="rotate(-25 118 12)"/>
<ellipse cx="135" cy="6" rx="12" ry="5" fill="#f2f3f3" opacity="0.95" filter="url(#b2)" transform="rotate(-10 135 6)"/>
<ellipse cx="128" cy="28" rx="5" ry="12" fill="#f2f3f3" opacity="0.9" filter="url(#b2)" transform="rotate(25 128 28)"/>
<ellipse cx="140" cy="18" rx="6" ry="5" fill="#f2f3f3" opacity="0.9" filter="url(#b2)" transform="rotate(0 140 18)"/>
<ellipse cx="98" cy="30" rx="5" ry="8" fill="#f2f3f3" opacity="0.9" filter="url(#b2)" transform="rotate(15 98 30)"/>
<ellipse cx="108" cy="38" rx="4" ry="5" fill="#f2f3f3" opacity="0.7" filter="url(#b2)" transform="rotate(0 108 38)"/>
<ellipse cx="113" cy="66" rx="6" ry="3" fill="#f2f3f3" opacity="0.85" filter="url(#b2)" transform="rotate(10 113 66)"/>
<ellipse cx="104" cy="64" rx="3" ry="2" fill="#f2f3f3" opacity="0.5" filter="url(#b2)" transform="rotate(0 104 64)"/>
<ellipse cx="136" cy="100" rx="2.5" ry="9" fill="#f2f3f3" opacity="0.5" filter="url(#b2)"/>
<ellipse cx="123" cy="83" rx="5" ry="2" fill="#f2f3f3" opacity="0.5" filter="url(#b2)"/>
<ellipse cx="143" cy="113" rx="2.5" ry="2.5" fill="#f2f3f3" opacity="0.5" filter="url(#b2)"/>
<ellipse cx="67" cy="66" rx="6" ry="2" fill="#f2f3f3" opacity="0.5" filter="url(#b2)"/>
<ellipse cx="50" cy="82" rx="4" ry="4" fill="#f2f3f3" opacity="0.4" filter="url(#b2)"/>
<ellipse cx="284" cy="42" rx="12" ry="9" fill="#f2f3f3" opacity="1" filter="url(#b2)"/>
<ellipse cx="358" cy="64" rx="9" ry="5" fill="#f2f3f3" opacity="0.95" filter="url(#b2)"/>
<ellipse cx="347" cy="82" rx="4" ry="5" fill="#f2f3f3" opacity="0.6" filter="url(#b2)"/>
<ellipse cx="347" cy="20" rx="8" ry="3" fill="#f2f3f3" opacity="1" filter="url(#b2)"/>
<ellipse cx="423" cy="35" rx="6" ry="4" fill="#f2f3f3" opacity="1" filter="url(#b2)"/>
<ellipse cx="221" cy="122" rx="4" ry="2" fill="#f2f3f3" opacity="0.8" filter="url(#b2)"/>
<ellipse cx="18" cy="139" rx="11" ry="1.6" fill="#f2f3f3" opacity="0.7" filter="url(#b2)"/>
<ellipse cx="31" cy="150" rx="1.6" ry="6" fill="#f2f3f3" opacity="0.5" filter="url(#b2)"/>
<ellipse cx="-1" cy="134" rx="6" ry="1.5" fill="#f2f3f3" opacity="0.5" filter="url(#b2)"/>
<ellipse cx="129" cy="362" rx="2" ry="7" fill="#f2f3f3" opacity="0.8" filter="url(#b2)"/>
<ellipse cx="279" cy="107" rx="3" ry="8" fill="#f2f3f3" opacity="0.3" filter="url(#b2)"/>
<ellipse cx="496" cy="70" rx="5" ry="2" fill="#f2f3f3" opacity="0.8" filter="url(#b2)"/>
<ellipse cx="186" cy="-5" rx="60" ry="8" fill="#f2f3f3" opacity="0.9" filter="url(#b2)"/>
</g>
<g filter="url(#b1)" fill="#f3f4f4">
<polygon points="165.0,-2.0 236.0,-2.0 234.5,14.0 225.0,30.0 221.0,48.5 217.5,64.0 215.0,80.0 211.0,96.0 199.0,109.0 188.6,119.0 182.0,135.0 179.4,139.0 172.0,125.0 168.0,105.0 163.0,88.0 158.0,72.0 150.0,64.0 141.0,60.0 135.0,49.0 140.0,40.0 147.0,30.0 150.0,20.0 158.0,10.0" stroke="#8a8270" stroke-width="1.2"/>
<polygon points="128.2,448.0 128.2,444.3 133.5,431.2 141.4,418.1 147.9,407.6 154.5,403.7 158.4,408.9 154.5,418.1 159.7,426.0 167.6,433.9 180.7,439.1 196.5,444.3 215.0,445.0 230.0,442.0 267.0,435.2 293.2,431.2 319.5,426.0 337.9,418.1 345.7,415.5 372.0,423.3 390.4,426.0 398.2,418.1 419.2,411.5 437.6,415.5 456.0,418.1 466.5,412.9 487.5,418.1 503.2,423.3 519.0,431.2 532.1,437.8 542.6,444.3 542.6,448.0"/>
</g>
<g filter="url(#b1)" fill="#0b1a2a">
<polygon points="300.9,189.1 302.0,183.3 305.1,178.0 309.3,178.5 310.2,181.9 312.7,180.2 317.8,176.5 319.5,182.1 323.7,187.9 322.9,189.7 314.4,189.5 307.6,189.1"/>
<polygon points="336.5,198.3 344.9,198.9 344.1,192.4 342.7,187.9 339.0,182.1 343.2,179.7 339.8,176.0 333.9,179.7 334.4,185.6 337.3,191.3"/>
<polygon points="429.7,164.3 433.1,161.6 439.0,152.9 437.3,157.3 433.1,163.0"/>
<polygon points="97.5,176.5 104.2,172.3 109.3,174.8 110.2,178.5 117.8,179.7 118.6,184.5 123.7,184.5 119.5,185.6 112.7,189.1 111.9,185.6 113.6,180.9 107.6,179.7 105.1,187.9 106.8,187.9 109.3,179.7 104.2,177.3"/>
<polygon points="352.6,183.3 356.8,180.9 356.8,177.3 353.4,178.5"/>
</g>
<g font-family="Liberation Sans, sans-serif" stroke-linejoin="round">
<text x="70.0" y="165.3" font-size="22" textLength="72.1" lengthAdjust="spacingAndGlyphs" fill="#222" stroke="#222" stroke-opacity=".5" stroke-width="3" fill-opacity=".5">NORTH</text>
<text x="70.0" y="165.3" font-size="22" textLength="72.1" lengthAdjust="spacingAndGlyphs" fill="#fff" stroke="#fff" stroke-width=".7" >NORTH</text>
<text x="60.8" y="189.4" font-size="22" textLength="91.6" lengthAdjust="spacingAndGlyphs" fill="#222" stroke="#222" stroke-opacity=".5" stroke-width="3" fill-opacity=".5">AMERICA</text>
<text x="60.8" y="189.4" font-size="22" textLength="91.6" lengthAdjust="spacingAndGlyphs" fill="#fff" stroke="#fff" stroke-width=".7" >AMERICA</text>
<text x="153.2" y="300.5" font-size="22" textLength="70.0" lengthAdjust="spacingAndGlyphs" fill="#222" stroke="#222" stroke-opacity=".5" stroke-width="3" fill-opacity=".5">SOUTH</text>
<text x="153.2" y="300.5" font-size="22" textLength="70.0" lengthAdjust="spacingAndGlyphs" fill="#fff" stroke="#fff" stroke-width=".7" >SOUTH</text>
<text x="142.0" y="324.0" font-size="22" textLength="93.0" lengthAdjust="spacingAndGlyphs" fill="#222" stroke="#222" stroke-opacity=".5" stroke-width="3" fill-opacity=".5">AMERICA</text>
<text x="142.0" y="324.0" font-size="22" textLength="93.0" lengthAdjust="spacingAndGlyphs" fill="#fff" stroke="#fff" stroke-width=".7" >AMERICA</text>
<text x="280.0" y="268.5" font-size="22" textLength="73.0" lengthAdjust="spacingAndGlyphs" fill="#222" stroke="#222" stroke-opacity=".5" stroke-width="3" fill-opacity=".5">AFRICA</text>
<text x="280.0" y="268.5" font-size="22" textLength="73.0" lengthAdjust="spacingAndGlyphs" fill="#fff" stroke="#fff" stroke-width=".7" >AFRICA</text>
<text x="277.5" y="178.4" font-size="22" textLength="79.5" lengthAdjust="spacingAndGlyphs" fill="#222" stroke="#222" stroke-opacity=".5" stroke-width="3" fill-opacity=".5">EUROPE</text>
<text x="277.5" y="178.4" font-size="22" textLength="79.5" lengthAdjust="spacingAndGlyphs" fill="#fff" stroke="#fff" stroke-width=".7" >EUROPE</text>
<text x="421.0" y="166.6" font-size="22" textLength="44.0" lengthAdjust="spacingAndGlyphs" fill="#222" stroke="#222" stroke-opacity=".5" stroke-width="3" fill-opacity=".5">ASIA</text>
<text x="421.0" y="166.6" font-size="22" textLength="44.0" lengthAdjust="spacingAndGlyphs" fill="#fff" stroke="#fff" stroke-width=".7" >ASIA</text>
<text x="465.0" y="317.0" font-size="22" textLength="117.0" lengthAdjust="spacingAndGlyphs" fill="#222" stroke="#222" stroke-opacity=".5" stroke-width="3" fill-opacity=".5">AUSTRALIA</text>
<text x="465.0" y="317.0" font-size="22" textLength="117.0" lengthAdjust="spacingAndGlyphs" fill="#fff" stroke="#fff" stroke-width=".7" >AUSTRALIA</text>
</g>
<g font-family="Liberation Sans, sans-serif" font-style="italic" fill="#8fb2dc" font-size="15" text-anchor="middle" style="paint-order:stroke" stroke="#0a1626" stroke-opacity=".6" stroke-width="1.5">
<text x="197" y="218">Atlantic</text>
<text x="199" y="234.5">Ocean</text>
<text x="397" y="311">Indian</text>
<text x="398" y="326.5">Ocean</text>
</g>
<g fill="#cac619" fill-opacity=".68" stroke="#8b8600" stroke-opacity=".95" stroke-width="1.4">
<circle cx="83.0" cy="224.7" r="22"/>
<circle cx="251.0" cy="158.0" r="18.4"/>
<circle cx="272.6" cy="164.6" r="23.8"/>
<circle cx="314.8" cy="194.7" r="7.9"/>
<circle cx="430.5" cy="200.2" r="11.8"/>
<circle cx="471.0" cy="200.2" r="17"/>
<circle cx="166.3" cy="284.2" r="7.3"/>
</g>
<g font-family="Liberation Sans, sans-serif" font-weight="bold" font-size="12" text-anchor="middle">
<rect x="54.0" y="173.0" width="57.7" height="22.5" rx="3.5" fill="#1a1a1a" fill-opacity=".68"/>
<text x="82.8" y="188.6" fill="#fff">Mexico</text>
<rect x="239.0" y="111.3" width="68.6" height="23.7" rx="3.5" fill="#1a1a1a" fill-opacity=".68"/>
<text x="273.3" y="127.4" fill="#fff">Germany</text>
<rect x="238.5" y="184.5" width="30.1" height="21.5" rx="3.5" fill="#1a1a1a" fill-opacity=".68"/>
<text x="253.5" y="199.6" fill="#fff">UK</text>
<rect x="286.7" y="157.0" width="57.3" height="22.7" rx="3.5" fill="#1a1a1a" fill-opacity=".68"/>
<text x="315.3" y="172.7" fill="#fff">Turkey</text>
<rect x="445.0" y="153.5" width="51.7" height="22.8" rx="3.5" fill="#1a1a1a" fill-opacity=".68"/>
<text x="470.8" y="169.2" fill="#fff">Korea</text>
<rect x="405.3" y="219.0" width="50.2" height="23.0" rx="3.5" fill="#1a1a1a" fill-opacity=".68"/>
<text x="430.4" y="234.8" fill="#fff">China</text>
<rect x="140.8" y="248.0" width="51.0" height="22.3" rx="3.5" fill="#1a1a1a" fill-opacity=".68"/>
<text x="166.3" y="263.4" fill="#fff">Brazil</text>
</g>
<g fill="#fff"><path d="M7 412.6 L11 414 L11 427.8 L16.5 424.6 L13.8 423.3 L12.1 419.1 L20.8 422.2 L20.8 426.6 L11 432.4 L7 430.1 Z"/>
<text x="25" y="429" font-family="Liberation Sans, sans-serif" font-size="17" textLength="32" lengthAdjust="spacingAndGlyphs">Bing</text></g>
<g font-family="Liberation Sans, sans-serif" font-size="11" style="paint-order:stroke" stroke="#fff" stroke-opacity=".75" stroke-width="2.5" stroke-linejoin="round">
<text x="145" y="436" fill="#222" textLength="346" lengthAdjust="spacingAndGlyphs">Earthstar Geographics SIO, © 2018 HERE, © 2018 Microsoft Corporation</text>
<text x="497" y="436" fill="#2a4bd0" text-decoration="underline" textLength="28" lengthAdjust="spacingAndGlyphs">Terms</text>
</g>
</svg>
<svg class="a" style="left:0;top:140px" width="1527" height="120" viewBox="0 140 1527 120">
<rect x="339.55" y="182.35" width="221.30" height="24.7" rx="5.8" fill="#fff" stroke="#343434" stroke-width="1.7"/>
<rect x="568.65" y="182.35" width="221.30" height="24.7" rx="5.8" fill="#fff" stroke="#343434" stroke-width="1.7"/>
<rect x="339.55" y="215.35" width="221.30" height="24.7" rx="5.8" fill="#fff" stroke="#343434" stroke-width="1.7"/>
<rect x="568.65" y="215.35" width="221.30" height="24.7" rx="5.8" fill="#fff" stroke="#343434" stroke-width="1.7"/>
<rect x="836.35" y="182.35" width="76.30" height="24.7" rx="5.8" fill="#fff" stroke="#343434" stroke-width="1.7"/>
<rect x="921.10" y="182.35" width="76.30" height="24.7" rx="5.8" fill="#fff" stroke="#343434" stroke-width="1.7"/>
<rect x="1005.85" y="182.35" width="76.30" height="24.7" rx="5.8" fill="#fff" stroke="#343434" stroke-width="1.7"/>
<rect x="1090.60" y="182.35" width="76.30" height="24.7" rx="5.8" fill="#fff" stroke="#343434" stroke-width="1.7"/>
<rect x="1175.35" y="182.35" width="76.30" height="24.7" rx="5.8" fill="#fff" stroke="#343434" stroke-width="1.7"/>
<rect x="1260.10" y="182.35" width="76.30" height="24.7" rx="5.8" fill="#fff" stroke="#343434" stroke-width="1.7"/>
<rect x="1344.85" y="182.35" width="76.30" height="24.7" rx="5.8" fill="#fff" stroke="#343434" stroke-width="1.7"/>
<rect x="1429.60" y="182.35" width="76.30" height="24.7" rx="5.8" fill="#fff" stroke="#343434" stroke-width="1.7"/>
<rect x="836.35" y="215.35" width="76.30" height="24.7" rx="5.8" fill="#fff" stroke="#343434" stroke-width="1.7"/>
<rect x="921.10" y="215.35" width="76.30" height="24.7" rx="5.8" fill="#fff" stroke="#343434" stroke-width="1.7"/>
<rect x="1005.85" y="215.35" width="76.30" height="24.7" rx="5.8" fill="#fff" stroke="#343434" stroke-width="1.7"/>
<rect x="1090.60" y="215.35" width="76.30" height="24.7" rx="5.8" fill="#fff" stroke="#343434" stroke-width="1.7"/>
<rect x="1175.35" y="215.35" width="76.30" height="24.7" rx="5.8" fill="#fff" stroke="#343434" stroke-width="1.7"/>
<rect x="1260.10" y="215.35" width="76.30" height="24.7" rx="5.8" fill="#fff" stroke="#343434" stroke-width="1.7"/>
<rect x="1344.85" y="215.35" width="76.30" height="24.7" rx="5.8" fill="#fff" stroke="#343434" stroke-width="1.7"/>
<rect x="1429.60" y="215.35" width="76.30" height="24.7" rx="5.8" fill="#fff" stroke="#343434" stroke-width="1.7"/>
</svg>
<svg class="a" style="left:0;top:0" width="1527" height="876" viewBox="0 0 1527 876" font-family="Liberation Sans, sans-serif">
<text x="370.5" y="83.8" font-size="30.5" font-weight="bold" fill="#55a9f3" textLength="776.5" lengthAdjust="spacingAndGlyphs" stroke="#55a9f3" stroke-width=".5">Quota Attainment for FY15 as of Oct (Demo Data)</text>
<text x="132.5" y="166.9" font-size="17.5" font-weight="bold" fill="#fff" textLength="41.2" lengthAdjust="spacingAndGlyphs">Date</text>
<text x="26.2" y="205.0" font-size="14" fill="#333" textLength="55.8" lengthAdjust="spacingAndGlyphs">1/1/2013</text>
<text x="121.2" y="205.0" font-size="14" fill="#333" textLength="71.2" lengthAdjust="spacingAndGlyphs">12/31/2015</text>
<text x="533.8" y="166.9" font-size="17.5" font-weight="bold" fill="#fff" textLength="62.0" lengthAdjust="spacingAndGlyphs">Region</text>
<text x="450.2" y="198.8" font-size="16" fill="#6a777c" text-anchor="middle">Asia Pacific</text>
<text x="679.3" y="198.8" font-size="16" fill="#6a777c" text-anchor="middle">North &amp; Central America</text>
<text x="450.2" y="231.8" font-size="16" fill="#6a777c" text-anchor="middle">Europe</text>
<text x="679.3" y="231.8" font-size="16" fill="#6a777c" text-anchor="middle">South America</text>
<text x="1135.0" y="166.9" font-size="17.5" font-weight="bold" fill="#fff" textLength="71.5" lengthAdjust="spacingAndGlyphs">Country</text>
<text x="874.5" y="198.8" font-size="16" fill="#6a777c" text-anchor="middle">Australia</text>
<text x="959.2" y="198.8" font-size="16" fill="#6a777c" text-anchor="middle">Canada</text>
<text x="1044.0" y="198.8" font-size="16" fill="#6a777c" text-anchor="middle">France</text>
<text x="1128.8" y="198.8" font-size="16" fill="#6a777c" text-anchor="middle">India</text>
<text x="1213.5" y="198.8" font-size="16" fill="#6a777c" text-anchor="middle">Italy</text>
<text x="1298.2" y="198.8" font-size="16" fill="#6a777c" text-anchor="middle">Korea</text>
<text x="1383.0" y="198.8" font-size="16" fill="#6a777c" text-anchor="middle">Spain</text>
<text x="1467.8" y="198.8" font-size="16" fill="#6a777c" text-anchor="middle">UK</text>
<text x="874.5" y="231.8" font-size="16" fill="#6a777c" text-anchor="middle">Brazil</text>
<text x="959.2" y="231.8" font-size="16" fill="#6a777c" text-anchor="middle">China</text>
<text x="1044.0" y="231.8" font-size="16" fill="#6a777c" text-anchor="middle">Germa...</text>
<text x="1128.8" y="231.8" font-size="16" fill="#6a777c" text-anchor="middle">Indone...</text>
<text x="1213.5" y="231.8" font-size="16" fill="#6a777c" text-anchor="middle">Japan</text>
<text x="1298.2" y="231.8" font-size="16" fill="#6a777c" text-anchor="middle">Mexico</text>
<text x="1383.0" y="231.8" font-size="16" fill="#6a777c" text-anchor="middle">Turkey</text>
<text x="1467.8" y="231.8" font-size="16" fill="#6a777c" text-anchor="middle">USA</text>
<text x="19.5" y="276.8" font-size="15.4" font-weight="bold" fill="#fff" textLength="268.0" lengthAdjust="spacingAndGlyphs">Variance to quota by account owner</text>
<text transform="translate(82.4 324.7) scale(0.95 1)" font-size="13.33" font-weight="bold" fill="#4f5b5e" text-anchor="end">Joe Healy</text>
<text transform="translate(277.2 324.7) scale(0.905 1)" font-size="13.33" fill="#777" text-anchor="end">$224.67K</text>
<text transform="translate(82.4 355.7) scale(0.95 1)" font-size="13.33" font-weight="bold" fill="#4f5b5e" text-anchor="end">Vernon ...</text>
<text transform="translate(221.9 355.7) scale(0.905 1)" font-size="13.33" fill="#777">$114.28K</text>
<text transform="translate(82.4 386.7) scale(0.95 1)" font-size="13.33" font-weight="bold" fill="#4f5b5e" text-anchor="end">Alessio ...</text>
<text transform="translate(221.9 386.7) scale(0.905 1)" font-size="13.33" fill="#777">$114.13K</text>
<text transform="translate(82.4 417.7) scale(0.95 1)" font-size="13.33" font-weight="bold" fill="#4f5b5e" text-anchor="end">Manish ...</text>
<text transform="translate(221.7 417.7) scale(0.905 1)" font-size="13.33" fill="#777">$113.39K</text>
<text transform="translate(82.4 448.7) scale(0.95 1)" font-size="13.33" font-weight="bold" fill="#4f5b5e" text-anchor="end">Naoki S...</text>
<text transform="translate(221.6 448.7) scale(0.905 1)" font-size="13.33" fill="#777">$113.08K</text>
<text transform="translate(82.4 479.7) scale(0.95 1)" font-size="13.33" font-weight="bold" fill="#4f5b5e" text-anchor="end">Enrique...</text>
<text transform="translate(221.3 479.7) scale(0.905 1)" font-size="13.33" fill="#777">$111.53K</text>
<text transform="translate(82.4 510.7) scale(0.95 1)" font-size="13.33" font-weight="bold" fill="#4f5b5e" text-anchor="end">Derek B...</text>
<text transform="translate(208.5 510.7) scale(0.905 1)" font-size="13.33" fill="#777">$56.17K</text>
<text transform="translate(82.4 541.7) scale(0.95 1)" font-size="13.33" font-weight="bold" fill="#4f5b5e" text-anchor="end">Lesley ...</text>
<text transform="translate(198.1 541.7) scale(0.905 1)" font-size="13.33" fill="#777">$11.23K</text>
<text transform="translate(82.4 572.7) scale(0.95 1)" font-size="13.33" font-weight="bold" fill="#4f5b5e" text-anchor="end">Fabrice ...</text>
<text transform="translate(198.1 572.7) scale(0.905 1)" font-size="13.33" fill="#777">$11.11K</text>
<text transform="translate(82.4 603.7) scale(0.95 1)" font-size="13.33" font-weight="bold" fill="#4f5b5e" text-anchor="end">Eran Ha...</text>
<text transform="translate(195.5 603.7) scale(0.905 1)" font-size="13.33" fill="#777">$0.00K</text>
<text transform="translate(82.4 634.7) scale(0.95 1)" font-size="13.33" font-weight="bold" fill="#4f5b5e" text-anchor="end">Peter B...</text>
<text transform="translate(94.9 634.7) scale(0.935 1)" font-size="13.33" fill="#777">-$143.70K</text>
<text transform="translate(82.4 665.7) scale(0.95 1)" font-size="13.33" font-weight="bold" fill="#4f5b5e" text-anchor="end">Cecilia ...</text>
<text transform="translate(94.9 665.7) scale(0.935 1)" font-size="13.33" fill="#777">-$168.65K</text>
<text transform="translate(82.4 696.7) scale(0.95 1)" font-size="13.33" font-weight="bold" fill="#4f5b5e" text-anchor="end">Ayla Kol</text>
<text transform="translate(94.9 696.7) scale(0.935 1)" font-size="13.33" fill="#777">-$206.43K</text>
<text transform="translate(82.4 727.7) scale(0.95 1)" font-size="13.33" font-weight="bold" fill="#4f5b5e" text-anchor="end">David B...</text>
<text transform="translate(94.9 727.7) scale(0.935 1)" font-size="13.33" fill="#777">-$225.12K</text>
<text transform="translate(82.4 758.7) scale(0.95 1)" font-size="13.33" font-weight="bold" fill="#4f5b5e" text-anchor="end">Eiji Yas...</text>
<text transform="translate(154.1 758.7) scale(0.95 1)" font-size="13.33" font-weight="bold" fill="#fff" text-anchor="middle">-$283.08K</text>
<text transform="translate(82.4 789.7) scale(0.95 1)" font-size="13.33" font-weight="bold" fill="#4f5b5e" text-anchor="end">Daniel ...</text>
<text transform="translate(148.4 789.7) scale(0.95 1)" font-size="13.33" font-weight="bold" fill="#fff" text-anchor="middle">-$331.76K</text>
<text transform="translate(82.4 820.7) scale(0.95 1)" font-size="13.33" font-weight="bold" fill="#4f5b5e" text-anchor="end">Luis Alv...</text>
<text transform="translate(147.9 820.7) scale(0.95 1)" font-size="13.33" font-weight="bold" fill="#fff" text-anchor="middle">-$336.20K</text>
<text transform="translate(93.5 857.8) scale(1.0 1)" font-size="13.33" font-weight="bold" fill="#5f6b6d" text-anchor="middle">-$0....</text>
<text transform="translate(139.8 857.8) scale(1.0 1)" font-size="13.33" font-weight="bold" fill="#5f6b6d" text-anchor="middle">-$0....</text>
<text transform="translate(186.0 857.8) scale(1.0 1)" font-size="13.33" font-weight="bold" fill="#5f6b6d" text-anchor="middle">$0.0M</text>
<text transform="translate(232.2 857.8) scale(1.0 1)" font-size="13.33" font-weight="bold" fill="#5f6b6d" text-anchor="middle">$0.2M</text>
<text transform="translate(278.5 857.8) scale(1.0 1)" font-size="13.33" font-weight="bold" fill="#5f6b6d" text-anchor="middle">$0.4M</text>
<text x="327.2" y="277.5" font-size="16.4" font-weight="bold" fill="#fff" textLength="174.0" lengthAdjust="spacingAndGlyphs">Total account owners</text>
<text x="545.8" y="277.5" font-size="16.4" font-weight="bold" fill="#fff" textLength="211.2" lengthAdjust="spacingAndGlyphs">Account owners on target</text>
<text x="793.2" y="277.5" font-size="16.4" font-weight="bold" fill="#fff" textLength="244.2" lengthAdjust="spacingAndGlyphs">Account owners not on target</text>
<text x="1093.0" y="276.8" font-size="16.4" font-weight="bold" fill="#fff" textLength="147.0" lengthAdjust="spacingAndGlyphs">Average quota ($)</text>
<text x="1328.3" y="276.8" font-size="16.4" font-weight="bold" fill="#fff" textLength="138.3" lengthAdjust="spacingAndGlyphs">Average sales ($)</text>
<text x="399.3" y="352.4" font-size="35.2" fill="#5a666a" textLength="33.1" lengthAdjust="spacingAndGlyphs">17</text>
<text x="636.0" y="352.4" font-size="35.2" fill="#5a666a" textLength="32.8" lengthAdjust="spacingAndGlyphs">10</text>
<text x="909.0" y="352.4" font-size="35.2" fill="#5a666a" textLength="13.6" lengthAdjust="spacingAndGlyphs">7</text>
<text x="1123.0" y="351.4" font-size="35.2" fill="#5a666a" textLength="89.9" lengthAdjust="spacingAndGlyphs">$1.1M</text>
<text x="1352.9" y="351.4" font-size="35.2" fill="#5a666a" textLength="89.1" lengthAdjust="spacingAndGlyphs">$1.1M</text>
<text x="479.8" y="412.7" font-size="16.8" font-weight="bold" fill="#fff" textLength="291.3" lengthAdjust="spacingAndGlyphs">Sales ($) and quota ($) by region</text>
<text x="312.4" y="471.1" font-size="13.33" font-weight="bold" fill="#5f6b6d" textLength="26.4" lengthAdjust="spacingAndGlyphs">$8M</text>
<text x="312.4" y="558.4" font-size="13.33" font-weight="bold" fill="#5f6b6d" textLength="26.4" lengthAdjust="spacingAndGlyphs">$6M</text>
<text x="312.4" y="645.7" font-size="13.33" font-weight="bold" fill="#5f6b6d" textLength="26.4" lengthAdjust="spacingAndGlyphs">$4M</text>
<text x="312.4" y="733.0" font-size="13.33" font-weight="bold" fill="#5f6b6d" textLength="26.4" lengthAdjust="spacingAndGlyphs">$2M</text>
<text x="312.4" y="820.4" font-size="13.33" font-weight="bold" fill="#5f6b6d" textLength="26.4" lengthAdjust="spacingAndGlyphs">$0M</text>
<text transform="translate(427.4 551.0) scale(0.895 1)" font-size="13.33" font-weight="bold" fill="#fff" text-anchor="middle">$6.52M</text>
<text transform="translate(476.6 539.2) scale(0.895 1)" font-size="13.33" font-weight="bold" fill="#fff" text-anchor="middle">$6.79M</text>
<text transform="translate(453.9 842.7) scale(0.927 1)" font-size="13.33" font-weight="bold" fill="#5f6b6d" text-anchor="middle">Asia Pacific</text>
<text transform="translate(555.4 506.5) scale(0.895 1)" font-size="13.33" font-weight="bold" fill="#fff" text-anchor="middle">$7.54M</text>
<text transform="translate(604.6 492.1) scale(0.895 1)" font-size="13.33" font-weight="bold" fill="#fff" text-anchor="middle">$7.87M</text>
<text transform="translate(581.9 842.7) scale(0.93 1)" font-size="13.33" font-weight="bold" fill="#5f6b6d" text-anchor="middle">Europe</text>
<text transform="translate(683.4 725.3) scale(0.895 1)" font-size="13.33" font-weight="bold" fill="#fff" text-anchor="middle">$2.53M</text>
<text transform="translate(732.6 737.5) scale(0.895 1)" font-size="13.33" font-weight="bold" fill="#fff" text-anchor="middle">$2.25M</text>
<text transform="translate(709.9 842.7) scale(1.0 1)" font-size="13.33" font-weight="bold" fill="#5f6b6d" text-anchor="middle">North &amp; Central</text>
<text transform="translate(709.9 861.0) scale(0.97 1)" font-size="13.33" font-weight="bold" fill="#5f6b6d" text-anchor="middle">America</text>
<text transform="translate(811.4 759.8) scale(0.895 1)" font-size="13.33" font-weight="bold" fill="#fff" text-anchor="middle">$1.74M</text>
<text transform="translate(860.6 738.0) scale(0.895 1)" font-size="13.33" font-weight="bold" fill="#fff" text-anchor="middle">$2.24M</text>
<text transform="translate(837.9 842.7) scale(0.96 1)" font-size="13.33" font-weight="bold" fill="#5f6b6d" text-anchor="middle">South America</text>
<text x="567.0" y="444.6" font-size="13.33" font-weight="bold" fill="#5f6b6d" textLength="48.9" lengthAdjust="spacingAndGlyphs">Sales ($)</text>
<text x="636.3" y="444.6" font-size="13.33" font-weight="bold" fill="#5f6b6d" textLength="56.3" lengthAdjust="spacingAndGlyphs">Quota ($)</text>
<text x="1102.2" y="412.2" font-size="16.8" font-weight="bold" fill="#fff" textLength="257.1" lengthAdjust="spacingAndGlyphs">Countries not meeting quota</text>
</svg>
</body></html>
